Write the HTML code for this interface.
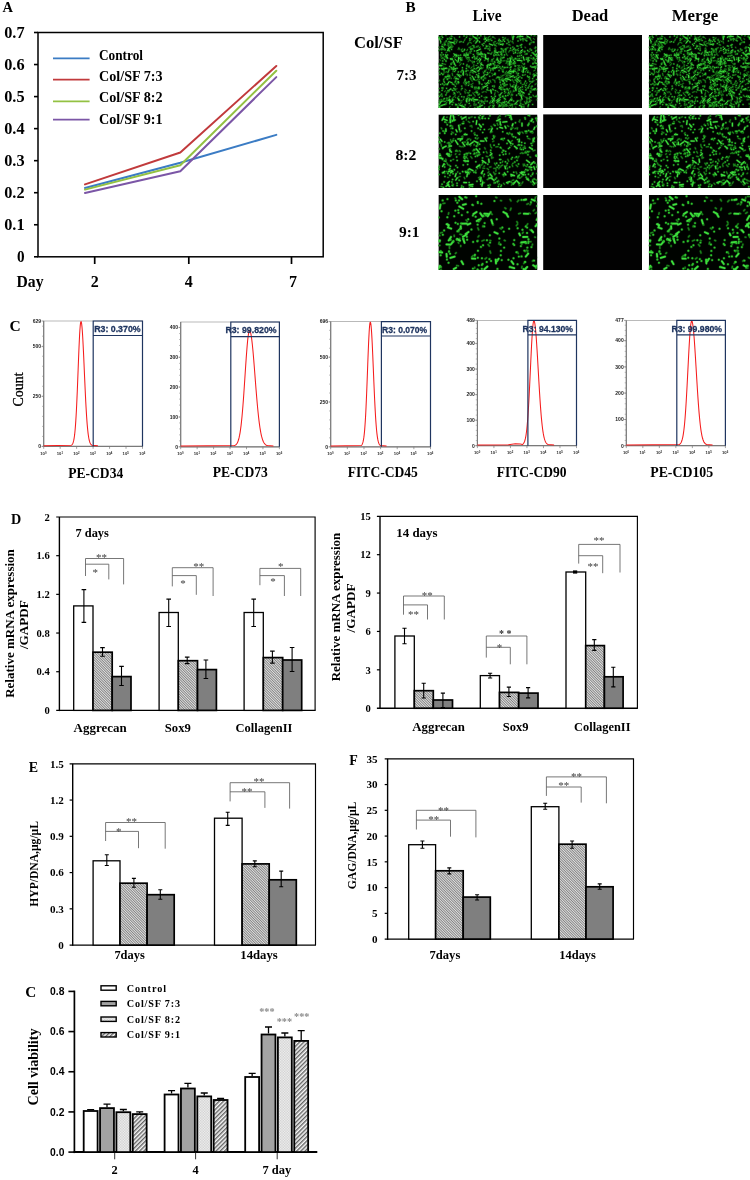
<!DOCTYPE html>
<html lang="en"><head><meta charset="utf-8"><title>Figure</title>
<style>html,body{margin:0;padding:0;background:#fff}body{width:750px;height:1180px;overflow:hidden}svg{display:block}text{font-family:"Liberation Serif","DejaVu Serif",serif;font-weight:bold}text.r{font-weight:normal}text.s{font-family:"Liberation Sans","DejaVu Sans",sans-serif}text.sr{font-family:"Liberation Sans","DejaVu Sans",sans-serif;font-weight:normal}</style>
</head><body>
<svg width="750" height="1180" viewBox="0 0 750 1180">
<defs>
<filter id="soft" x="-5%" y="-5%" width="110%" height="110%"><feGaussianBlur stdDeviation="0.7"/></filter>
<pattern id="h1" width="1.8" height="1.8" patternUnits="userSpaceOnUse" patternTransform="rotate(45)"><rect width="1.8" height="1.8" fill="#e4e4e4"/><line x1="0" y1="0.5" x2="1.8" y2="0.5" stroke="#6a6a6a" stroke-width="0.75"/></pattern>
<pattern id="h2" width="3" height="3" patternUnits="userSpaceOnUse" patternTransform="rotate(-45)"><rect width="3" height="3" fill="#fafafa"/><line x1="0" y1="0.8" x2="3" y2="0.8" stroke="#2a2a2a" stroke-width="1.05"/></pattern>
<pattern id="dots" width="1.6" height="1.6" patternUnits="userSpaceOnUse"><rect width="1.6" height="1.6" fill="#f6f6f6"/><rect width="0.6" height="0.6" fill="#a8a8a8"/><rect x="0.8" y="0.8" width="0.6" height="0.6" fill="#a8a8a8"/></pattern>
</defs>
<rect width="750" height="1180" fill="#fff"/>
<g id="panelA">
<text x="2.5" y="12.2" font-size="14.5">A</text>
<rect x="38" y="32.5" width="285.2" height="224.3" fill="none" stroke="#000" stroke-width="1.5"/>
<line x1="34" y1="256.8" x2="38" y2="256.8" stroke="#000" stroke-width="1.6"/>
<text x="24.6" y="262.2" font-size="16.3" text-anchor="end" textLength="7.6" lengthAdjust="spacingAndGlyphs">0</text>
<line x1="34" y1="224.76" x2="38" y2="224.76" stroke="#000" stroke-width="1.6"/>
<text x="24.6" y="230.16" font-size="16.3" text-anchor="end" textLength="20.4" lengthAdjust="spacingAndGlyphs">0.1</text>
<line x1="34" y1="192.71" x2="38" y2="192.71" stroke="#000" stroke-width="1.6"/>
<text x="24.6" y="198.11" font-size="16.3" text-anchor="end" textLength="20.4" lengthAdjust="spacingAndGlyphs">0.2</text>
<line x1="34" y1="160.67" x2="38" y2="160.67" stroke="#000" stroke-width="1.6"/>
<text x="24.6" y="166.07" font-size="16.3" text-anchor="end" textLength="20.4" lengthAdjust="spacingAndGlyphs">0.3</text>
<line x1="34" y1="128.63" x2="38" y2="128.63" stroke="#000" stroke-width="1.6"/>
<text x="24.6" y="134.03" font-size="16.3" text-anchor="end" textLength="20.4" lengthAdjust="spacingAndGlyphs">0.4</text>
<line x1="34" y1="96.59" x2="38" y2="96.59" stroke="#000" stroke-width="1.6"/>
<text x="24.6" y="101.99" font-size="16.3" text-anchor="end" textLength="20.4" lengthAdjust="spacingAndGlyphs">0.5</text>
<line x1="34" y1="64.54" x2="38" y2="64.54" stroke="#000" stroke-width="1.6"/>
<text x="24.6" y="69.94" font-size="16.3" text-anchor="end" textLength="20.4" lengthAdjust="spacingAndGlyphs">0.6</text>
<line x1="34" y1="32.5" x2="38" y2="32.5" stroke="#000" stroke-width="1.6"/>
<text x="24.6" y="37.9" font-size="16.3" text-anchor="end" textLength="20.4" lengthAdjust="spacingAndGlyphs">0.7</text>
<line x1="94.7" y1="256.8" x2="94.7" y2="264" stroke="#000" stroke-width="1.7"/>
<line x1="188.8" y1="256.8" x2="188.8" y2="264" stroke="#000" stroke-width="1.7"/>
<line x1="291.5" y1="256.8" x2="291.5" y2="264" stroke="#000" stroke-width="1.7"/>
<text x="16.5" y="287.2" font-size="16" textLength="27" lengthAdjust="spacingAndGlyphs">Day</text>
<text x="94.7" y="287.2" font-size="16" text-anchor="middle">2</text>
<text x="188.8" y="287.2" font-size="16" text-anchor="middle">4</text>
<text x="293" y="287.2" font-size="16" text-anchor="middle">7</text>
<polyline points="85,188 180.3,162.69 276.3,134.88" fill="none" stroke="#3b7cc4" stroke-width="2" stroke-linejoin="round" stroke-linecap="round"/>
<polyline points="85,184.38 180.3,152.5 276.3,65.98" fill="none" stroke="#c13a3c" stroke-width="2" stroke-linejoin="round" stroke-linecap="round"/>
<polyline points="85,189.61 180.3,165.29 276.3,70.7" fill="none" stroke="#93c143" stroke-width="2" stroke-linejoin="round" stroke-linecap="round"/>
<polyline points="85,193.03 180.3,171.25 276.3,77.1" fill="none" stroke="#7b56a6" stroke-width="2" stroke-linejoin="round" stroke-linecap="round"/>
<line x1="53" y1="58.4" x2="89.6" y2="58.4" stroke="#3b7cc4" stroke-width="1.8"/>
<text x="99" y="59.6" font-size="13.6" textLength="44" lengthAdjust="spacingAndGlyphs" xml:space="preserve">Control</text>
<line x1="53" y1="79.6" x2="89.6" y2="79.6" stroke="#c13a3c" stroke-width="1.8"/>
<text x="99" y="81" font-size="13.6" textLength="63.5" lengthAdjust="spacingAndGlyphs" xml:space="preserve">Col/SF 7:3</text>
<line x1="53" y1="101.4" x2="89.6" y2="101.4" stroke="#93c143" stroke-width="1.8"/>
<text x="99" y="102.4" font-size="13.6" textLength="63.5" lengthAdjust="spacingAndGlyphs" xml:space="preserve">Col/SF 8:2</text>
<line x1="53" y1="119.6" x2="89.6" y2="119.6" stroke="#7b56a6" stroke-width="1.8"/>
<text x="99" y="124.4" font-size="13.6" textLength="63.5" lengthAdjust="spacingAndGlyphs" xml:space="preserve">Col/SF 9:1</text>
</g>
<g id="panelB">
<text x="405.6" y="12" font-size="15.2">B</text>
<text x="487" y="20.8" font-size="16" text-anchor="middle" textLength="29" lengthAdjust="spacingAndGlyphs">Live</text>
<text x="590" y="20.8" font-size="16" text-anchor="middle" textLength="36.6" lengthAdjust="spacingAndGlyphs">Dead</text>
<text x="695" y="20.8" font-size="16" text-anchor="middle" textLength="46.6" lengthAdjust="spacingAndGlyphs">Merge</text>
<text x="354" y="48" font-size="16" textLength="48.8" lengthAdjust="spacingAndGlyphs">Col/SF</text>
<text x="396.6" y="80" font-size="15.5" textLength="20" lengthAdjust="spacingAndGlyphs">7:3</text>
<text x="395.4" y="160" font-size="15.5" textLength="21" lengthAdjust="spacingAndGlyphs">8:2</text>
<text x="399" y="237" font-size="15.5" textLength="20.6" lengthAdjust="spacingAndGlyphs">9:1</text>
<defs>
<clipPath id="clip0"><rect width="101.2" height="73"/></clipPath>
<g id="live0" clip-path="url(#clip0)"><rect width="101.2" height="73" fill="#000300"/>
<g stroke-linecap="round" fill="none">
<path id="c0_0" d="M71.4 53.4l-1.2 0.9M20.6 13.0l0.7 1.4M16.2 47.3l1.2 0.0M78.3 41.3l-1.8 1.0M78.4 37.0l-0.4 1.4M34.7 62.4l0.1 1.8M72.3 56.0l0.0 1.5M33.8 0.9l1.2 0.8M72.9 15.3l-1.2 0.2M4.8 14.5l0.8 0.2M54.7 34.6l0.1 0.9M58.7 18.3l1.0 0.8M19.3 72.9l0.7 0.8M45.0 53.2l-0.6 0.0M51.3 12.7l0.2 0.9M16.3 61.5l1.1 1.2M59.1 8.1l-1.4 0.6M22.6 28.7l-1.2 1.6M8.8 3.4l0.8 0.1M38.4 64.9l-1.7 1.0M5.3 34.9l0.5 0.4M99.8 0.8l-0.7 0.3M70.5 68.2l1.1 0.3M72.1 6.0l0.8 0.6M1.6 66.3l-1.3 1.4M0.7 36.3l0.3 0.8M18.3 19.4l1.2 1.6M17.8 48.3l0.4 0.8M36.0 67.9l-0.4 1.5M73.0 21.1l1.1 1.8M62.5 18.0l0.9 0.3M84.0 60.9l-1.1 0.2M70.0 43.5l-1.1 1.7M63.5 70.5l1.2 1.4M18.5 6.6l-0.7 1.4M100.0 37.0l-0.9 0.1M75.7 49.7l-0.6 0.1M29.1 14.4l-0.6 1.3M88.5 34.5l-0.5 1.1M2.5 29.3l-0.9 1.9M74.2 69.9l-1.6 0.9M24.3 34.6l0.8 1.2M2.1 31.3l0.7 0.0M67.8 19.5l1.4 0.8M94.6 54.9l-1.2 0.2M39.2 21.2l-0.8 1.7M71.8 49.1l0.4 2.1M50.0 55.5l1.2 0.0M52.8 29.1l0.6 0.3M75.5 41.9l-1.0 0.2M65.3 68.2l1.0 0.5M44.7 37.1l0.6 0.6M47.6 10.3l1.4 0.8M28.8 66.2l-0.3 1.5M63.0 40.9l0.8 1.0M73.7 72.4l1.4 1.7M12.7 8.7l0.6 0.4M72.1 40.2l-0.5 1.0M46.4 42.2l-0.1 0.7M10.6 56.7l-1.8 0.6M73.2 62.5l-0.2 0.6M65.1 70.1l-0.3 1.8M48.4 48.7l0.5 0.4M40.2 41.3l1.0 0.7M0.0 59.1l-1.4 0.4M47.1 62.2l1.7 0.2M74.2 37.2l-0.5 0.4M17.0 41.7l-1.0 0.4M3.7 60.3l0.3 1.3M68.6 4.8l1.8 1.2M54.7 72.3l-0.8 1.2M90.0 36.0l-1.0 0.2M28.1 48.4l-0.4 0.8M57.8 19.2l0.6 1.3M100.5 18.1l-1.3 0.5M65.4 63.3l0.7 0.4M17.9 4.6l-2.0 0.5M12.9 27.8l-0.4 0.9M41.6 12.2l-0.8 0.6M33.3 43.9l-1.0 0.4M30.5 23.3l0.2 1.2M54.9 39.5l-1.0 1.3M89.6 16.1l0.5 0.7M53.6 17.3l-0.2 0.8M2.0 14.1l-1.4 1.1M80.2 13.5l-1.3 1.1M30.8 17.9l1.6 0.2M78.8 43.4l0.1 2.1M60.6 59.9l1.3 0.6M92.3 48.1l-1.3 1.5M42.9 16.5l-0.6 0.7M18.3 53.7l-0.4 0.6M46.3 48.2l1.1 0.1M3.2 20.7l-0.6 1.3M46.2 1.0l0.1 0.8M57.0 10.5l1.1 0.5M95.3 22.5l0.5 1.7M24.0 69.7l-0.3 0.7M58.6 56.1l1.0 1.2M54.6 72.1l-0.6 0.3M95.1 3.6l0.8 0.7M97.8 37.9l0.9 1.2M97.6 54.6l1.6 0.8M79.8 18.0l-1.0 0.4M69.6 4.2l-0.3 0.9M94.7 28.1l-0.2 1.0M100.6 47.1l1.0 1.1M74.1 6.3l0.6 1.8M22.8 23.2l1.1 1.8M89.5 71.4l0.1 0.7M63.9 32.8l-2.0 0.8M19.1 47.2l0.9 1.4M15.4 64.8l-0.4 0.5M82.0 54.9l0.5 1.3M11.5 71.6l-0.6 1.4M100.6 32.1l-1.9 0.1M31.6 25.3l1.3 0.9M1.0 45.1l0.2 0.8M30.0 72.8l-0.2 1.7M5.1 23.3l-2.0 0.1M5.7 8.2l0.6 0.5M29.6 31.8l1.3 0.7M67.6 69.2l-1.2 1.1M91.4 22.7l-1.0 0.2M100.0 52.4l-0.9 0.3M6.4 43.6l-0.9 0.1M73.5 0.6l0.6 1.5M79.6 33.0l0.4 0.7M86.3 31.4l-1.0 1.3M4.1 52.8l0.4 0.6M82.7 9.5l-1.1 1.1M13.8 38.4l0.4 2.1M35.9 53.8l1.7 0.0M66.2 47.3l-1.0 1.8M87.1 39.6l-2.0 0.7M79.8 33.3l0.5 1.7M21.9 27.1l-0.9 0.7M20.5 61.2l-1.4 1.6M9.9 15.3l1.5 1.1M28.9 39.3l-0.0 1.1M73.2 26.6l0.1 1.0M86.3 47.5l-0.4 1.9M100.2 64.6l-1.9 0.2M20.2 39.8l-0.9 1.1M34.0 0.5l0.7 0.0M90.8 66.8l-1.2 1.2M54.4 28.2l0.7 0.5M52.9 65.3l-1.0 1.7M96.1 13.2l1.0 0.2M30.8 57.6l-2.0 0.1M27.7 64.1l0.7 1.0M75.5 35.4l1.6 0.8M38.5 30.5l-0.9 0.0M1.5 24.8l0.4 0.5M29.5 58.0l0.4 0.6M9.5 9.9l-0.7 0.3M32.4 11.9l-1.8 0.6M30.6 47.0l-2.0 0.4M15.9 2.6l0.6 1.6M67.1 3.2l-1.1 1.2M8.5 67.1l-0.9 1.8M83.6 58.0l1.7 0.8M10.6 33.4l0.8 1.3M19.0 5.2l-1.4 1.4M26.8 3.8l-0.9 2.0M67.6 57.4l-1.6 0.8M45.6 56.7l-1.8 0.7M64.6 43.1l-0.7 1.3M40.1 17.5l-0.2 1.3M70.6 9.8l1.1 0.3M61.1 69.9l-0.5 1.9M26.9 72.5l-0.7 1.3M80.4 31.3l-0.0 0.6M67.5 17.7l0.5 0.8M83.5 22.7l-0.8 0.2M67.1 54.2l-0.6 1.2M36.8 72.8l0.6 0.6M4.9 9.2l-1.1 0.3M78.6 23.7l-0.9 0.5M74.2 59.4l-0.1 1.0M61.9 6.2l-0.5 1.6M0.4 28.4l0.2 1.1M56.0 16.1l-0.1 2.0M5.4 36.4l0.6 0.3M10.1 10.8l0.1 1.2M96.6 35.3l-1.1 0.5M49.2 53.8l-0.8 0.5M20.3 68.4l0.9 1.0M0.7 12.2l-1.4 0.2M52.4 3.6l-0.4 1.5M11.9 11.7l1.8 0.0M31.4 16.4l0.9 1.6M56.3 45.3l0.3 2.0M88.5 47.9l-0.4 0.7M85.4 16.7l1.5 1.4M77.3 72.0l0.3 1.9M55.8 18.4l0.6 0.1M68.4 27.8l-0.8 0.4M91.9 3.9l1.1 1.8M13.5 67.1l1.8 0.6M89.2 2.8l-1.6 0.4M84.1 28.4l1.2 1.4M20.0 63.8l0.9 0.3M7.8 21.5l0.9 1.0M74.9 55.2l1.1 0.9M77.7 44.7l-1.2 0.2M23.3 14.5l-0.1 1.7M65.7 40.1l-1.7 0.5M31.2 0.1l0.7 0.5M14.4 27.3l-0.5 1.0M35.4 29.6l-0.0 2.2M23.7 22.8l-0.6 1.3M61.5 26.6l-1.0 0.0M70.6 58.3l0.9 0.6M85.2 49.3l-1.4 0.4M46.0 20.7l1.2 1.2M12.6 43.0l0.2 0.6M81.3 3.7l1.9 0.7M68.6 26.7l-0.1 1.5M67.3 49.7l-0.7 0.2M82.3 66.8l-0.5 0.4M83.9 69.4l1.7 0.5M94.1 45.9l-1.3 1.7M16.9 59.9l-0.3 1.0M61.7 44.9l0.1 1.8M5.7 37.5l-0.5 1.6M26.2 46.1l-0.9 1.9M36.1 5.6l-0.7 0.7M70.2 40.2l1.0 0.3M73.9 44.4l0.9 1.8M80.4 2.7l1.6 0.4M1.0 64.9l-0.4 1.1M62.9 23.6l-0.2 1.4M35.9 20.7l-0.3 0.6M69.5 58.7l1.6 0.6M14.9 34.6l-0.2 2.1M12.6 9.7l1.6 1.4M34.6 57.8l0.4 1.1M65.6 69.7l-2.1 0.4M71.7 22.8l-0.5 0.6M64.3 14.2l0.2 2.0M81.6 45.3l0.8 0.6M66.6 25.7l-2.1 0.2M70.1 38.6l1.0 0.0M14.5 11.6l-1.4 1.6M31.7 12.8l0.6 1.4M60.9 8.6l0.8 0.1M4.2 11.4l-1.3 0.1M1.8 1.9l-1.9 0.7M55.4 19.4l0.1 0.7M9.3 8.0l0.4 0.6M33.3 50.9l-0.6 0.7M76.7 23.2l-0.8 1.4M93.4 17.8l0.6 0.2M3.2 64.4l0.7 1.8M74.4 28.3l-0.8 0.2M61.7 42.3l-1.3 0.2M35.6 59.2l1.2 1.8M37.1 57.1l1.2 0.6M9.6 13.8l0.8 1.7M36.5 72.3l-0.5 1.1M55.5 50.6l0.6 0.1M34.1 26.0l1.4 1.5M49.7 33.5l0.4 0.8M75.9 34.0l1.5 0.2M20.3 12.9l-0.5 1.5M83.5 26.0l-0.6 1.1M43.9 52.7l-0.5 1.6M94.8 22.4l1.3 1.0M30.6 62.5l-1.2 0.6M37.2 57.2l-0.9 0.3M14.9 21.3l0.6 0.6M39.9 46.4l0.7 0.8M38.6 19.0l1.2 0.8M39.2 57.7l-0.9 0.4M99.0 1.9l1.5 0.2M39.1 56.1l-1.4 0.1M76.7 51.4l0.6 0.4M6.9 55.8l-0.6 0.8M64.5 14.2l-0.7 1.1M55.4 72.4l0.7 1.9M73.1 22.1l0.6 1.4M66.4 70.0l-0.7 1.8M10.0 8.6l0.0 0.6M36.2 12.6l-1.2 0.2M28.0 35.2l-0.5 1.5M53.7 28.5l-1.2 1.7M70.2 42.5l-0.7 0.3M12.3 54.1l1.6 1.1M8.3 57.0l-0.1 1.8M65.8 44.4l-2.1 0.1M100.2 41.6l0.9 1.1M15.7 59.1l-0.8 0.0M26.3 71.4l-1.2 0.7M30.5 7.6l-0.7 0.7M28.5 47.2l1.9 0.9M4.8 52.5l-0.3 1.6M89.2 52.6l-1.1 1.5M76.3 55.9l-1.7 0.8M98.9 39.6l0.1 0.8M44.9 41.9l-1.3 0.3M96.7 0.7l-1.1 0.2M33.8 13.5l0.8 0.5M43.0 65.3l-1.4 1.2M28.4 35.2l1.6 0.4M84.3 4.3l0.4 1.6M91.4 43.2l-0.9 1.7M35.6 62.4l-0.5 0.6M13.3 32.9l1.3 0.6M31.0 24.9l-1.1 1.6M18.5 39.5l0.5 0.6M99.5 31.4l-0.5 0.4M91.1 64.8l1.9 0.6M59.0 30.3l1.4 0.3M65.4 17.2l-0.9 0.1M78.9 65.5l1.7 0.2M78.8 23.8l-2.1 0.3M87.4 62.3l1.3 0.3M51.7 33.3l1.6 0.5M39.2 35.6l0.8 1.1M23.6 65.7l-1.2 0.2M64.6 4.4l0.7 1.0M65.0 34.8l-0.3 0.7M19.8 70.1l-0.7 1.3M99.6 61.5l-0.8 1.3M92.4 53.4l0.9 1.0M15.7 6.4l0.7 0.0M8.6 43.3l0.7 1.4M49.7 25.0l0.0 1.7M98.9 19.0l0.0 0.7M38.1 69.3l-0.8 0.0M15.2 62.1l-1.2 1.2M97.6 25.6l-1.5 1.1M6.6 10.1l-0.8 0.4M68.1 13.7l-1.9 0.6M54.6 66.4l0.5 0.9M7.7 25.2l-0.7 0.3M6.6 49.9l-0.8 0.4M39.3 21.1l-1.6 1.4M23.0 67.1l-1.0 1.5M39.5 44.6l-2.0 0.8M92.5 23.4l1.0 0.0M2.0 64.9l1.6 1.1M0.7 15.1l-0.7 0.7M5.4 49.4l-0.1 0.7M78.1 48.1l0.1 2.0M4.1 38.9l0.7 0.4M54.3 65.3l0.5 1.1M55.4 23.2l-0.7 1.1M73.3 58.9l-0.6 2.0M38.4 2.3l-0.4 2.0M49.2 3.1l0.9 0.0M52.0 70.4l-0.8 1.1M7.9 20.6l-0.8 0.3M6.2 13.6l-1.3 0.6M55.5 68.2l-0.8 0.4M7.0 0.2l0.8 0.3M68.0 14.2l-0.7 1.1M16.8 22.5l-0.6 0.5M31.1 48.9l0.5 0.6M98.3 30.2l0.4 0.9M86.7 12.2l0.3 0.6M40.7 41.0l-0.3 1.8M38.0 52.0l0.4 1.4M37.8 23.1l1.3 1.5M4.3 30.3l-0.9 0.1M56.3 62.1l-1.3 0.6M79.9 34.3l-0.2 1.3M38.6 71.4l1.3 1.1M68.2 36.2l-1.1 1.8M46.2 71.9l-0.4 2.0M91.6 15.9l-0.6 0.7M65.7 22.0l-1.2 0.9M2.1 14.1l0.5 0.9M6.5 8.6l-0.4 1.3M43.6 66.1l-0.1 1.7M34.0 34.4l1.4 0.4M17.3 44.6l0.6 0.3M68.7 38.8l-2.0 0.3M47.3 42.8l-0.0 0.9M84.2 16.1l-0.9 0.3M35.7 22.3l1.8 1.0M97.5 48.9l-0.8 0.6M94.3 24.5l0.8 0.4M71.5 15.2l-1.1 1.8M88.3 19.1l-1.7 0.2M56.9 27.5l-1.5 1.0M6.0 21.7l0.9 0.7M38.7 5.6l-1.3 1.1M91.6 37.6l0.1 1.5M79.3 30.5l2.0 0.1M98.2 60.4l0.3 1.2M82.0 32.7l-1.9 0.3M8.0 69.3l-1.4 0.5M18.1 69.7l-0.8 0.6M24.0 14.0l-1.2 0.7M10.0 6.8l1.0 1.0M33.7 31.9l-1.2 1.4M31.4 7.3l1.6 0.8M54.1 28.2l0.9 0.9M30.3 60.2l-1.4 1.1M10.7 3.9l1.1 0.0M61.9 42.0l1.0 1.1M63.8 35.9l1.6 1.2M42.5 42.8l0.6 1.2M88.4 65.5l0.7 1.7M67.6 15.5l-0.4 1.5M35.3 37.7l-0.4 0.5M56.7 12.9l-0.4 1.0M73.6 64.2l-1.6 0.0M12.4 32.8l0.6 0.5M47.2 56.8l0.7 0.2M71.0 72.6l-0.2 1.1M24.6 72.6l1.5 0.2M56.3 6.7l-1.2 0.7M62.3 22.1l1.1 0.2M45.6 62.3l1.0 1.0M6.4 63.3l-1.2 1.0M46.2 51.3l-2.1 0.5M86.1 66.6l0.8 1.5M2.6 59.8l-1.5 1.2M53.8 70.3l1.3 0.9M28.0 64.7l-0.4 0.6M8.0 36.6l-0.7 0.5M53.6 38.5l0.8 0.8M7.1 32.7l1.8 0.7M25.3 63.9l-0.3 0.8M81.1 56.9l2.1 0.2M33.6 3.6l-1.1 1.0M28.3 0.5l0.5 0.4M39.6 11.7l-2.0 0.5M41.3 44.0l-0.8 1.0M87.0 36.4l0.0 0.8M7.5 49.2l-1.3 0.2M64.2 61.4l0.7 1.0M75.2 46.8l0.6 0.9M83.4 30.9l0.9 1.8M35.4 10.4l-1.5 0.1M5.0 28.9l2.1 0.5M17.0 41.6l1.3 1.6M10.2 13.1l1.6 0.1M101.0 40.2l0.7 1.3M69.2 39.7l-1.4 1.5M26.7 54.4l1.2 1.0M83.2 36.4l2.0 0.0M29.7 18.2l0.4 1.5M80.2 54.5l0.1 1.8M27.8 38.7l-0.2 0.6M58.7 42.7l-0.9 0.6M7.1 41.8l1.2 0.1M26.3 48.8l1.1 1.5M33.8 27.0l0.3 1.0M95.3 7.0l-1.8 0.1M32.4 70.7l-0.7 0.3M5.5 32.2l0.0 1.2M14.9 32.7l1.2 0.8M95.5 45.5l-0.3 0.8M58.8 67.7l0.7 1.3M18.4 56.8l0.8 0.8M60.9 67.4l-1.1 0.6M80.1 38.3l-0.9 0.9M94.6 39.9l0.5 0.8M47.9 35.0l-1.8 0.8M63.5 34.6l0.7 0.3M54.4 68.0l1.1 0.9M56.8 38.2l0.2 1.6M0.0 47.6l-0.8 0.3M67.7 61.1l-0.4 0.5M34.6 48.4l-1.8 1.2M41.9 72.8l-1.6 0.1M7.3 7.1l-1.1 0.1M50.3 11.1l1.2 0.5M66.5 32.8l-0.9 0.5M64.9 49.1l1.5 1.5M2.4 3.8l1.2 0.4M55.4 2.3l1.2 1.2M46.3 43.3l-1.4 1.2M71.7 28.5l1.9 1.0M16.1 6.2l-0.3 1.6M100.4 68.4l0.1 1.1M84.4 54.4l-0.8 0.3M73.9 70.3l0.1 1.2M52.7 26.1l1.6 0.0M94.6 60.7l1.4 0.9M16.0 49.6l-0.0 0.8M51.7 1.1l-1.6 1.1M14.0 1.5l-0.8 0.2M47.7 12.6l0.3 0.6M68.0 40.9l1.3 0.1M39.5 25.4l-1.1 0.8M23.0 53.8l-0.1 1.1M61.4 70.9l-1.1 1.2M30.1 8.1l-1.0 1.7M45.1 37.8l0.2 0.8M34.0 64.7l1.0 1.2M69.3 70.4l0.3 0.7M69.9 28.0l-0.2 1.9M23.1 70.2l0.3 1.9M80.2 51.7l-1.6 0.8M67.0 2.7l-0.6 0.8M59.9 7.9l0.6 1.7M26.4 56.2l0.5 1.9M10.9 40.3l0.6 1.6M96.4 31.1l-0.8 1.3M44.7 32.6l-1.2 1.2M84.1 59.5l1.3 1.6M41.3 65.5l-0.3 0.7M1.8 60.0l1.5 1.3M57.3 6.6l-1.0 0.3M63.7 53.7l-0.1 1.3M62.3 19.3l-1.1 1.1M3.5 22.2l1.2 0.4M20.0 56.9l1.1 0.3M66.8 49.1l0.6 0.9M39.7 52.5l-0.7 1.3M4.9 33.4l0.1 1.2M52.0 37.0l-1.8 1.2M49.6 6.0l0.9 0.3M56.0 31.3l0.1 1.9M97.9 19.7l-0.6 0.8M33.3 45.7l0.6 0.3M32.1 36.9l-0.6 1.1M8.4 17.2l-0.7 0.3M68.3 25.6l-0.2 1.3M57.0 13.6l0.5 2.0M46.7 64.6l0.1 2.0M44.0 21.7l1.8 0.4M40.7 47.5l0.2 1.6M63.1 51.7l-0.6 2.0M0.4 73.0l0.5 0.9M81.4 17.5l-0.7 0.6M47.7 24.4l-1.7 1.0M101.0 72.1l1.3 0.4M48.3 2.6l-1.8 1.2M65.8 2.7l0.6 0.7M75.5 51.3l0.4 1.6M33.6 50.6l0.5 0.4M59.1 24.3l-1.3 0.8M11.3 2.5l-0.4 0.6M50.5 2.0l-0.7 0.6M75.8 27.8l0.5 0.4M51.8 45.4l0.6 1.9M69.7 54.3l0.7 2.0M93.0 7.8l-1.6 0.4M74.6 16.3l0.4 0.5M66.2 70.2l-1.0 0.6M83.7 35.1l0.4 2.0M60.7 32.1l-1.0 0.6M91.7 55.6l0.1 1.8M71.3 9.7l-1.0 0.0M33.5 37.4l1.3 0.4M5.4 64.0l-0.5 0.5M100.1 43.3l-0.4 1.8M94.7 60.1l0.4 0.5M91.8 65.3l-1.2 0.8M75.5 69.3l1.4 0.1M92.8 51.6l0.0 2.1M7.2 48.9l0.9 0.2M36.9 33.8l1.0 1.3M87.6 67.8l0.2 0.6M54.3 44.6l1.6 0.6M62.2 60.3l-1.2 1.2M66.1 49.1l1.1 1.8M40.1 11.0l-2.0 0.5M37.4 70.0l-1.8 0.1M43.8 19.4l-0.2 0.9M100.8 1.1l0.7 0.5M86.7 52.0l0.6 0.7M8.3 64.6l-0.3 1.1M64.7 60.7l0.5 0.9M11.3 40.2l-0.5 1.2M27.9 22.8l1.0 1.6M18.5 48.3l-0.2 0.8M67.5 44.1l-0.4 1.4M61.1 69.6l-0.7 2.0M60.6 67.1l1.7 0.7M12.3 10.1l1.0 0.0M18.6 46.3l1.7 1.3M69.6 12.7l-1.6 0.5M63.9 52.2l0.9 0.4M64.0 72.7l-0.6 0.6M10.7 9.9l-0.3 1.2M16.8 42.1l-1.0 1.3M8.4 37.3l1.1 0.5M56.6 57.8l-0.5 2.1M76.2 30.2l1.3 0.4"/>
<path id="c0_1" d="M8.1 33.3l-4.4 0.9M64.9 9.0l-3.0 0.5M56.5 16.9l2.7 0.7M14.5 65.0l-2.6 2.8M78.9 25.4l3.3 0.1M77.6 50.3l-0.6 2.5M96.0 19.0l2.8 3.1M52.4 29.5l-1.8 1.0M56.0 63.7l-2.4 3.7M79.0 66.3l-2.4 2.5M75.0 1.2l-0.5 3.4M76.0 13.3l-1.6 1.5M75.2 36.5l-3.9 0.2M59.0 24.2l1.0 1.8M74.8 40.8l-3.1 1.4M35.7 64.4l3.7 0.4M42.0 14.2l-3.8 1.7M29.6 19.8l-4.1 0.5M11.0 12.4l-1.8 3.2M20.2 22.4l-0.3 4.0M21.4 70.2l3.9 1.3M25.9 72.9l-1.8 1.5M84.0 14.9l-1.7 1.2M42.7 19.0l-2.0 0.3M97.5 32.0l-4.1 0.1M76.7 53.0l0.9 2.7M40.2 32.1l-1.9 1.2M51.0 8.9l3.3 1.3M12.1 7.2l2.9 0.4M11.6 64.8l-0.3 4.0M42.0 33.4l-2.2 2.8M100.8 3.9l4.0 0.2M19.4 72.3l0.1 2.2M63.3 45.0l1.7 1.7M72.9 64.1l-2.4 2.4M17.4 43.5l2.6 0.6M71.3 26.0l-0.0 4.2M78.4 43.5l2.9 2.8M20.3 22.3l2.6 2.8M11.9 23.7l2.1 0.7M47.2 19.5l-0.0 4.1M100.8 18.3l-3.4 1.2M17.7 33.5l-3.0 0.8M42.4 24.1l-1.0 1.8M42.5 17.6l2.0 1.8M46.7 2.9l1.6 2.8M61.6 64.8l-3.2 2.4M39.5 5.3l-2.2 2.8M84.9 21.7l0.8 3.4M2.9 66.5l-2.4 3.7M6.7 69.2l-4.1 1.5M46.5 39.6l-1.9 2.1M19.6 63.6l1.0 1.8M10.9 64.4l1.4 2.9M81.0 70.4l2.3 0.9M39.7 40.3l0.1 2.4M83.1 56.6l2.6 1.3M31.3 63.9l-0.6 2.2M96.6 28.0l3.5 0.8M100.2 2.3l2.7 1.5M58.5 32.5l-4.1 0.7M19.3 39.2l2.1 2.9M44.0 70.3l-3.5 1.5M99.3 12.4l3.5 1.7M12.4 53.9l-1.8 1.4M25.0 37.3l-0.1 2.9M7.3 19.7l1.9 3.6M99.3 61.4l3.1 2.5M28.7 63.3l-0.7 3.4M49.6 29.5l-0.9 3.4M61.0 63.3l-2.7 2.2M67.2 43.5l3.9 1.1M80.5 1.3l3.9 0.1M42.2 29.0l2.4 1.2M15.5 18.9l3.0 1.8M14.9 25.7l1.5 3.9M100.9 13.5l-0.2 2.8M0.3 70.9l1.6 3.0M49.9 46.9l-2.2 2.3M89.7 22.6l-0.1 4.3M71.8 23.1l0.5 3.7M52.3 55.0l0.7 3.2M48.9 50.6l-3.8 1.7M46.6 22.9l3.1 1.6M88.6 1.0l3.2 2.0M96.5 39.9l-1.0 1.9M97.0 53.6l-2.2 0.8M10.7 46.6l-1.9 3.1M33.6 35.4l3.8 1.8M88.4 33.3l-3.3 0.9M63.4 57.7l-2.2 2.5M1.2 30.5l2.1 0.1M0.4 2.6l2.0 4.1M35.1 1.7l3.9 2.4M33.7 41.2l2.5 3.7M85.2 32.8l-0.4 4.6M99.8 46.2l2.5 0.0M82.5 60.2l1.1 3.9"/>
<path id="c0_2" d="M14.7 33.2h.1M33.9 22.6h.1M97.5 15.4h.1M56.2 65.8h.1M24.0 32.7h.1M91.3 9.2h.1M98.0 44.5h.1M82.4 65.0h.1M25.6 61.9h.1M14.9 49.3h.1M16.7 55.0h.1M12.2 3.7h.1M22.2 22.6h.1M65.9 54.7h.1M72.2 45.1h.1M48.2 39.8h.1M16.3 58.3h.1M94.2 43.6h.1M40.6 19.0h.1M30.8 68.4h.1M65.0 45.7h.1M83.1 25.7h.1M62.5 25.7h.1M64.1 9.9h.1M10.7 6.5h.1M9.7 41.4h.1M14.2 55.4h.1M17.2 69.3h.1M11.7 66.8h.1M92.6 20.6h.1M55.5 9.1h.1M91.4 62.2h.1M3.0 38.3h.1M30.4 22.4h.1M77.5 45.2h.1M67.5 32.4h.1M4.3 39.6h.1M62.4 27.0h.1M50.5 72.1h.1M74.7 24.8h.1M7.8 5.9h.1M70.4 37.2h.1M75.5 27.3h.1M40.8 2.9h.1M95.4 39.1h.1M70.4 7.2h.1M53.6 24.7h.1M56.9 61.3h.1M42.9 32.9h.1M39.3 28.4h.1M68.5 8.5h.1M78.7 2.4h.1M28.2 30.8h.1M71.5 38.5h.1M87.4 54.9h.1M91.4 66.7h.1M90.7 25.4h.1M90.4 59.3h.1M62.8 16.8h.1M58.5 24.7h.1M74.3 51.8h.1M43.1 42.3h.1M40.1 24.5h.1M31.4 5.2h.1M6.0 24.3h.1M83.9 51.8h.1M62.6 54.4h.1M10.0 65.4h.1M68.6 43.4h.1M88.0 23.0h.1M72.4 38.7h.1M78.1 60.2h.1M49.7 13.8h.1M36.5 52.3h.1M45.5 8.4h.1M43.0 43.0h.1M33.4 13.9h.1M48.7 66.2h.1M6.5 66.4h.1M15.2 7.8h.1M71.7 32.8h.1M82.7 60.1h.1M81.9 0.1h.1M9.6 65.3h.1M61.4 31.9h.1M30.0 50.3h.1M3.9 28.5h.1M18.2 25.7h.1M69.4 37.6h.1M96.8 20.6h.1M75.3 35.4h.1M13.1 3.7h.1M75.0 37.5h.1M67.1 60.7h.1M12.9 32.5h.1M72.3 32.4h.1M60.6 42.7h.1M13.4 33.9h.1M53.3 5.5h.1M61.2 51.7h.1M56.3 30.0h.1M9.1 19.9h.1M46.4 36.7h.1M18.7 33.3h.1M79.7 15.6h.1M85.6 4.0h.1M61.1 70.2h.1M101.1 55.3h.1M77.1 17.0h.1M66.9 64.2h.1M77.6 15.1h.1M33.5 51.8h.1M8.9 41.3h.1M100.4 19.3h.1M89.2 15.4h.1M60.8 4.3h.1M49.8 23.4h.1M31.3 55.7h.1M9.2 4.1h.1M49.2 52.6h.1M58.4 31.1h.1M100.7 3.6h.1M61.5 53.4h.1M68.7 54.6h.1M81.4 41.8h.1M4.6 66.0h.1M17.0 51.3h.1M68.5 49.6h.1M56.5 38.4h.1M21.0 40.0h.1M54.8 54.7h.1M63.4 19.9h.1M55.9 39.4h.1M64.4 22.8h.1M50.7 29.4h.1M74.3 51.2h.1M90.7 63.5h.1M54.0 63.3h.1M79.6 5.9h.1M57.3 19.8h.1M1.1 33.7h.1M68.2 46.2h.1M33.1 65.5h.1M65.7 50.8h.1M3.3 17.7h.1M11.3 31.4h.1M56.0 26.8h.1M32.3 14.2h.1M4.2 2.4h.1M40.4 53.7h.1M4.3 25.9h.1M25.6 0.9h.1M80.7 23.7h.1M92.6 62.3h.1M89.9 52.8h.1M85.1 33.2h.1M65.0 4.9h.1M87.9 24.5h.1M5.3 34.8h.1M51.3 41.3h.1M46.6 13.4h.1M56.7 38.8h.1M101.2 10.0h.1M69.4 60.4h.1M76.1 42.4h.1M67.7 69.5h.1M27.5 47.3h.1M35.8 33.5h.1M11.9 66.5h.1M86.0 28.8h.1M0.0 2.4h.1M95.0 23.2h.1M60.8 53.0h.1M90.7 59.4h.1M48.4 11.3h.1M7.4 59.9h.1M35.5 66.1h.1M1.7 67.1h.1M41.0 6.6h.1M79.3 21.2h.1M4.8 19.7h.1M23.3 61.7h.1M35.8 26.7h.1M39.3 72.6h.1M3.6 11.3h.1M38.1 57.1h.1M58.9 42.2h.1M3.2 59.0h.1M73.2 65.4h.1M20.4 20.4h.1M43.2 61.1h.1M73.3 64.9h.1M9.6 40.2h.1M2.3 19.8h.1M52.0 28.6h.1M56.9 55.6h.1M62.3 52.5h.1M63.4 68.0h.1M38.2 39.6h.1M10.7 62.8h.1M82.9 17.5h.1M23.3 51.1h.1M95.3 18.8h.1M54.4 2.0h.1M59.5 66.0h.1M73.6 36.0h.1M79.6 40.2h.1M24.3 16.4h.1M61.7 47.6h.1M48.8 54.9h.1M72.1 45.4h.1M13.6 23.5h.1M63.5 69.0h.1M17.0 24.7h.1M91.7 14.0h.1M28.0 2.3h.1M45.8 68.6h.1M49.1 39.2h.1M94.6 28.5h.1M55.0 71.5h.1M96.1 54.7h.1M54.4 34.0h.1M90.1 69.5h.1M22.6 6.6h.1M63.5 6.5h.1M20.8 65.1h.1M72.6 31.7h.1M92.9 0.2h.1M40.9 53.0h.1M77.0 23.5h.1M88.3 67.1h.1M2.2 49.5h.1M93.0 15.1h.1M75.3 1.6h.1M43.5 49.3h.1M11.5 61.4h.1M30.4 46.7h.1M44.9 45.1h.1M50.5 4.6h.1M73.5 69.3h.1M70.4 36.6h.1M36.5 23.9h.1M98.2 23.4h.1M50.1 45.6h.1M35.1 44.4h.1M89.4 37.4h.1M74.4 12.1h.1M41.0 27.0h.1M99.4 28.3h.1M40.0 67.7h.1M31.9 42.8h.1M85.8 33.1h.1M45.3 66.9h.1M41.4 71.1h.1M92.2 31.2h.1M71.3 35.7h.1M13.8 69.6h.1M87.4 68.6h.1M82.3 48.0h.1M97.0 24.8h.1M74.2 2.8h.1M43.4 66.2h.1M27.9 18.2h.1M82.3 68.8h.1M22.0 59.0h.1M61.6 27.9h.1M24.5 38.9h.1M65.8 32.4h.1M60.7 28.5h.1M12.3 12.2h.1M55.7 51.8h.1M72.1 34.6h.1M13.7 65.9h.1M89.9 42.2h.1M9.5 55.6h.1M27.7 36.2h.1M54.3 64.0h.1M78.0 54.0h.1M5.5 46.5h.1M79.5 11.1h.1M69.8 67.4h.1M42.5 18.6h.1M100.9 10.0h.1M68.6 53.6h.1M83.0 20.3h.1M60.4 5.4h.1M17.0 46.2h.1M58.9 23.2h.1M17.5 19.8h.1M81.9 18.0h.1M80.0 42.7h.1M66.3 66.3h.1M60.5 16.9h.1M51.0 32.6h.1M3.5 14.5h.1M69.6 26.3h.1M9.9 36.7h.1M42.9 28.1h.1M47.9 62.5h.1M9.0 49.4h.1M62.3 70.8h.1M28.8 22.6h.1M66.1 63.4h.1M49.4 18.1h.1M13.9 64.3h.1M87.4 50.4h.1M72.1 13.2h.1M18.1 69.7h.1M7.8 41.9h.1M16.3 20.3h.1M48.5 30.8h.1M78.4 46.3h.1M10.5 15.4h.1M6.0 47.2h.1M97.2 12.2h.1M15.3 53.3h.1M90.6 58.9h.1M82.2 52.7h.1M34.1 22.7h.1M31.1 60.2h.1M80.7 56.7h.1M15.6 57.6h.1M37.0 2.8h.1M66.0 48.2h.1M41.2 48.1h.1M88.5 18.8h.1M2.1 7.8h.1M5.8 63.6h.1M79.4 1.4h.1M100.0 61.1h.1M59.4 27.3h.1M24.8 7.1h.1M3.1 70.5h.1M7.5 21.5h.1M42.2 30.9h.1M26.1 14.4h.1M40.4 38.6h.1M88.3 5.8h.1M43.8 9.3h.1M26.8 44.3h.1M12.1 47.2h.1M31.5 40.0h.1M59.8 19.9h.1M62.1 62.3h.1M75.0 25.5h.1M38.2 23.5h.1M93.7 51.2h.1M60.6 26.7h.1M19.9 36.9h.1M87.3 5.1h.1M50.4 48.3h.1M64.4 2.5h.1M51.4 68.0h.1M63.2 13.9h.1M13.0 47.5h.1M56.0 33.4h.1M3.6 52.9h.1M17.0 35.2h.1M7.6 26.2h.1M55.0 28.7h.1M43.2 21.6h.1M33.1 64.3h.1M76.2 26.4h.1M26.8 69.8h.1M38.8 17.8h.1M65.1 67.5h.1M72.3 27.0h.1M17.7 21.6h.1M84.4 3.7h.1M11.8 7.7h.1M53.9 63.2h.1M89.9 70.7h.1M72.5 23.8h.1M56.6 33.4h.1M20.0 46.6h.1M100.4 28.1h.1M3.6 55.4h.1M1.3 71.8h.1M44.7 10.6h.1M78.6 10.9h.1M86.4 16.3h.1M51.3 15.2h.1M75.2 66.0h.1M41.2 23.3h.1M21.1 1.9h.1M67.2 14.1h.1M92.3 57.0h.1M76.9 17.7h.1M1.1 57.1h.1M25.7 15.5h.1M39.7 59.8h.1M97.4 40.4h.1M16.2 8.8h.1M83.3 42.9h.1M82.3 10.3h.1M87.1 46.2h.1M54.2 54.1h.1M15.9 29.0h.1M65.4 22.4h.1M0.4 53.5h.1M6.6 9.6h.1M71.7 70.3h.1M97.5 61.4h.1M95.4 7.2h.1M75.3 18.3h.1M13.4 47.6h.1M45.9 19.2h.1M90.9 41.9h.1M8.9 44.2h.1M55.6 20.7h.1M76.9 28.0h.1M10.3 35.2h.1M29.5 20.2h.1M26.7 45.7h.1M8.1 53.3h.1M56.5 10.2h.1M12.6 24.4h.1M31.4 3.6h.1M21.2 1.8h.1M88.6 63.8h.1M27.8 48.5h.1M69.2 32.3h.1M13.1 14.5h.1M19.5 72.4h.1M23.7 35.4h.1M34.9 19.5h.1M62.0 5.6h.1M66.3 67.5h.1M4.7 12.5h.1M48.0 11.5h.1M45.8 4.2h.1M80.1 58.7h.1M6.9 41.9h.1M80.8 53.6h.1M41.4 33.2h.1M40.8 59.0h.1M4.0 48.8h.1M27.9 33.4h.1M81.9 55.2h.1M17.1 30.6h.1M61.3 71.0h.1M16.4 53.9h.1M52.2 35.1h.1M62.0 24.0h.1M4.2 11.5h.1M67.9 66.6h.1M35.4 11.2h.1M83.0 72.8h.1M12.9 1.0h.1M42.5 19.8h.1M22.2 20.1h.1M81.3 20.8h.1M65.5 54.3h.1M20.2 47.5h.1M8.5 63.2h.1M0.9 61.6h.1M89.1 41.2h.1M37.1 42.0h.1M64.2 61.5h.1M12.7 29.2h.1M78.3 69.0h.1M73.3 36.7h.1M22.4 40.7h.1M5.2 44.9h.1M40.1 52.7h.1M94.5 17.5h.1M39.2 0.6h.1M67.7 70.9h.1M82.1 4.8h.1M42.4 0.7h.1M64.1 31.5h.1M1.5 39.5h.1M71.9 29.1h.1M52.5 55.8h.1M60.3 5.7h.1M50.5 18.3h.1M65.1 15.9h.1M16.2 36.5h.1M93.8 46.8h.1M38.9 57.7h.1M41.7 69.0h.1M30.8 64.5h.1M14.0 48.9h.1M20.0 47.1h.1M73.5 51.5h.1M62.8 13.7h.1M25.8 19.1h.1M53.0 61.6h.1M24.9 36.4h.1M70.2 57.7h.1M46.9 6.7h.1M97.0 16.6h.1M83.4 71.9h.1M69.4 67.8h.1M75.4 28.7h.1M10.5 43.1h.1M64.6 67.3h.1M64.5 36.7h.1M90.5 51.1h.1M60.0 42.0h.1M34.5 63.7h.1M41.0 62.4h.1M21.3 7.0h.1M85.4 71.9h.1M36.0 15.9h.1M32.6 60.3h.1M55.6 70.5h.1M3.5 13.5h.1M66.0 19.9h.1M76.6 14.8h.1M52.5 18.9h.1M64.4 48.9h.1M60.5 65.5h.1M48.9 37.5h.1M22.3 24.9h.1M31.7 64.3h.1M94.2 69.5h.1M97.0 33.5h.1M81.6 58.4h.1M32.8 16.0h.1M22.6 36.8h.1M28.6 29.8h.1M25.0 28.9h.1M79.8 38.5h.1M60.9 44.1h.1M8.5 22.8h.1M62.9 18.8h.1M40.5 52.2h.1M6.7 14.8h.1M41.2 7.2h.1M83.3 9.6h.1M28.9 19.8h.1M10.9 41.1h.1M79.3 47.0h.1M54.1 51.1h.1M15.4 32.1h.1M49.4 4.8h.1M3.5 1.1h.1M35.7 21.4h.1M37.4 3.3h.1M23.7 53.3h.1M99.2 48.3h.1M60.6 35.5h.1M66.1 6.4h.1M3.3 33.5h.1M56.5 15.7h.1M82.9 12.2h.1M30.6 31.2h.1M81.0 34.9h.1M32.7 35.6h.1M66.1 56.5h.1M81.3 59.9h.1M76.8 31.2h.1M33.8 52.1h.1M62.3 49.9h.1M62.2 17.1h.1M76.5 36.4h.1M84.1 40.1h.1M40.8 46.8h.1M19.0 26.9h.1M91.5 46.4h.1M94.7 18.0h.1M14.5 55.5h.1M66.5 44.7h.1M69.4 23.9h.1M27.4 21.5h.1"/>
<use href="#c0_0" stroke="#1a821a" stroke-opacity="0.28" stroke-width="2.2"/>
<use href="#c0_1" stroke="#3ee03e" stroke-opacity="0.28" stroke-width="2.2"/>
<use href="#c0_2" stroke="#2dc42d" stroke-opacity="0.28" stroke-width="2.4"/>
<use href="#c0_0" stroke="#1a821a" stroke-width="1"/>
<use href="#c0_1" stroke="#3ee03e" stroke-width="1"/>
<use href="#c0_2" stroke="#2dc42d" stroke-width="1.2"/>
</g></g>
<clipPath id="clip1"><rect width="101.2" height="73.6"/></clipPath>
<g id="live1" clip-path="url(#clip1)"><rect width="101.2" height="73.6" fill="#000300"/>
<g stroke-linecap="round" fill="none">
<path id="c1_0" d="M21.7 16.3l-0.5 0.8M98.3 5.2l1.8 0.5M37.1 34.7l-0.5 1.1M21.1 31.7l1.8 0.7M39.9 27.9l0.5 1.6M0.7 34.2l0.3 0.6M15.5 2.5l0.8 0.2M69.3 53.6l-0.6 1.2M50.4 64.5l-1.6 0.7M74.7 65.7l-0.8 0.3M96.9 65.1l1.4 0.3M9.2 69.0l0.6 0.5M99.3 66.3l1.6 0.5M81.4 17.6l-0.7 1.3M40.6 4.0l0.8 0.2M12.2 25.2l0.3 1.6M68.5 50.6l-0.7 1.3M12.9 40.2l-0.9 1.5M24.4 32.0l0.4 0.5M44.4 49.1l-1.3 1.7M93.3 4.3l0.2 1.0M98.8 58.7l-0.6 0.6M72.2 30.7l0.7 0.6M80.6 7.1l0.7 0.5M72.4 67.6l1.2 1.0M91.5 42.5l0.7 0.3M99.8 21.9l-0.8 0.9M33.7 2.4l-1.3 0.4M19.3 57.2l-0.1 0.7M84.5 67.5l-1.0 1.6M73.7 50.4l0.6 1.7M1.1 51.3l-0.6 1.5M13.8 69.5l1.2 0.5M53.5 41.4l-0.4 2.0M14.2 11.7l-0.7 0.5M81.6 5.5l-0.3 0.5M32.6 11.4l-0.8 0.3M72.9 67.0l-1.0 0.5M78.2 42.8l-1.6 0.6M32.3 42.2l1.3 1.6M88.4 18.5l-0.9 0.2M86.8 51.3l1.7 0.9M32.4 30.9l-0.4 0.5M5.9 58.3l0.6 0.8M22.0 62.1l-1.4 0.2M2.8 13.5l0.6 0.9M57.6 55.0l-0.1 1.9M71.1 38.9l-0.2 0.7M38.7 52.7l0.4 1.5M52.7 11.9l1.1 1.4M82.5 70.6l-1.9 0.7M62.4 52.3l-1.5 0.9M94.2 65.0l0.6 0.4M39.5 31.2l-1.3 0.8M52.0 30.1l0.2 1.7M86.2 49.8l-0.3 1.3M12.4 7.8l-1.7 0.3M61.1 0.5l0.7 1.2M86.2 56.5l0.4 0.5M40.1 63.2l1.9 0.3M11.2 32.1l-1.5 1.0M33.3 11.3l0.3 1.5M75.0 48.7l-0.8 0.5M79.2 13.4l-0.3 1.4M11.3 33.8l0.8 1.0M94.2 69.8l0.9 0.8M6.7 7.8l1.4 0.6M72.8 13.4l0.4 0.4M98.1 5.0l0.2 1.6M15.0 70.4l-0.3 1.2M99.0 22.6l0.6 0.2M25.8 62.9l0.6 1.4M69.1 11.3l1.2 0.7M39.8 23.5l-1.1 1.1M79.2 30.9l0.9 0.2M65.2 68.9l0.9 1.0M99.4 2.0l-0.4 1.1M91.2 36.9l-1.6 1.2M46.1 51.5l-0.5 0.5M74.7 13.3l-1.7 0.9M64.1 60.1l1.3 1.7M69.4 44.9l0.9 1.9M66.4 60.4l-1.3 0.3M24.3 23.2l-0.4 1.1M56.1 48.8l1.1 1.7M56.6 21.9l-0.7 0.3M78.0 13.6l-1.5 0.7M77.7 50.7l1.5 1.4M84.1 61.3l-1.2 1.5M41.8 52.0l-0.2 1.4M97.4 68.3l1.6 0.6M50.4 57.4l-0.9 1.1M74.0 26.2l-1.5 1.1M89.5 23.9l2.0 0.7M91.6 6.5l1.3 0.5M52.6 52.4l-1.4 0.3M74.8 65.5l0.6 0.2M60.7 53.5l-0.3 0.9M28.0 4.5l-0.1 1.1M35.8 30.0l-0.1 0.8M55.6 67.8l0.1 1.2M37.5 55.8l-0.6 1.4M40.8 39.6l1.0 0.4M86.5 16.8l2.2 0.3M3.9 58.0l1.7 0.5M94.3 26.6l-0.0 1.9M98.4 50.0l0.2 2.0M27.2 27.7l-1.9 0.1M30.8 24.3l-1.2 0.6M96.6 35.7l-2.0 0.8M97.9 65.5l0.5 0.8M11.8 55.4l-1.7 0.1M98.4 52.4l1.1 0.7M30.6 38.1l-0.4 0.8M29.9 7.1l1.4 0.9M51.0 73.2l0.4 1.8M62.1 33.0l1.0 1.1M39.7 50.9l1.6 1.0M94.6 17.9l-0.3 0.8M21.0 36.2l0.9 1.0M59.6 32.3l-2.1 0.2M88.7 55.5l-0.0 0.8M55.6 9.9l-0.3 0.5M24.5 21.8l-1.2 0.3M7.3 16.9l-1.6 0.1M53.9 17.4l-2.0 0.8M73.5 20.9l0.6 1.3M36.0 36.1l-1.6 0.3M45.1 61.0l0.3 1.2M36.3 38.2l-1.2 1.4M55.2 57.8l0.8 1.6M67.8 0.8l-0.7 1.2M55.4 54.0l2.0 0.0M55.3 26.7l-0.9 0.5M77.7 57.5l0.8 1.9M7.9 57.0l1.4 0.7M54.7 43.2l-1.5 0.7M2.5 72.0l1.6 0.4M58.8 8.9l0.7 1.8M46.3 33.3l0.6 1.3M15.4 24.3l-0.6 0.3M21.5 39.8l-0.7 0.3M13.3 17.5l1.7 1.0M2.7 29.8l0.4 2.1M60.1 66.0l0.3 1.0M22.1 10.4l-0.7 0.1M81.4 68.4l-1.0 0.8M46.1 68.2l-2.0 0.6M30.9 72.4l0.3 1.7M92.0 67.2l0.8 0.8M64.3 50.7l-1.7 0.8M47.8 41.9l1.7 0.3M5.8 17.0l0.5 1.5M82.1 32.9l-0.4 1.7M58.4 67.3l0.8 1.1M85.8 31.7l0.7 0.2M73.2 28.9l-0.6 0.2M27.4 39.1l-1.8 1.2M64.4 46.7l-0.5 1.2M61.1 69.6l-0.9 0.8M98.4 12.1l-0.8 0.1M71.2 18.2l-1.2 1.7M84.8 49.8l0.3 1.8M87.7 36.8l-1.3 1.1M17.5 39.3l-0.5 0.6M9.2 62.9l0.7 0.2M74.3 69.0l-1.2 1.7M83.6 17.6l1.1 1.1M10.3 28.2l-1.4 0.5M9.2 50.2l2.0 0.8M6.7 16.9l-0.5 0.4M19.9 63.1l-1.4 0.1M29.6 24.4l-1.2 1.8M36.4 18.4l-0.8 0.5M90.7 8.2l-0.2 1.6M31.3 57.4l0.8 0.3M45.4 1.4l-1.5 1.2M28.4 39.5l0.4 1.3M60.3 2.4l-0.9 1.4M98.3 3.5l-0.8 0.9M23.0 16.5l-1.2 1.0M24.9 7.0l0.6 0.4M8.8 2.7l-0.7 0.2M0.4 27.1l0.2 0.8M63.9 24.0l0.9 1.8M44.5 53.8l1.8 0.1M57.4 59.3l-0.9 1.0M83.8 38.2l-1.9 0.9M70.5 18.9l1.4 0.4M40.7 3.6l0.9 1.3M43.8 65.8l0.4 2.0M8.4 48.5l0.6 0.7M51.8 14.5l-1.6 0.6M81.1 68.7l-0.7 1.3M30.3 56.1l-1.7 0.4M27.5 42.7l1.6 1.3M92.5 54.3l-1.0 0.3M30.8 24.5l-1.1 0.6M85.9 33.3l-1.2 0.1M18.2 35.8l1.2 1.2M75.0 9.4l-1.3 1.6M47.9 37.2l0.8 1.4M91.6 17.3l1.5 1.0M12.2 29.1l-0.6 1.3M7.3 44.7l0.5 0.9M52.6 32.6l0.7 0.8M61.1 5.9l-0.7 1.2M14.2 13.1l-1.6 1.1M41.6 62.2l0.7 1.8M85.7 38.7l-1.5 0.4M80.5 41.9l-1.1 1.7M48.7 54.2l1.4 1.0M32.3 25.0l-0.2 1.1M15.3 45.0l-0.8 0.2"/>
<path id="c1_1" d="M69.2 0.4l2.9 0.3M81.9 58.3l3.4 2.2M69.7 25.8l2.7 3.2M91.1 33.0l2.8 1.9M40.8 9.9l2.1 2.7M20.3 11.1l0.8 4.3M5.6 49.4l-1.4 2.6M4.4 4.2l4.2 1.8M42.6 63.2l-0.4 3.8M77.2 67.1l-2.4 2.6M83.6 8.8l0.0 2.8M72.2 0.8l0.9 4.2M88.3 64.5l2.0 1.2M83.2 57.6l2.9 0.5M22.9 73.4l1.6 3.8M23.8 24.3l-4.3 0.3M8.2 39.6l2.6 0.1M7.5 14.6l0.1 2.3M5.6 2.4l-1.9 3.4M95.9 23.6l-1.2 2.9M25.4 68.1l2.7 0.1M34.5 70.1l-3.7 0.5M51.5 59.5l2.1 2.5M100.8 34.2l1.4 3.2M11.8 5.3l0.2 2.8M44.4 67.7l-0.9 3.9M88.2 45.9l2.9 2.2M50.3 44.8l0.4 2.9M53.8 14.2l-1.3 2.9M66.6 11.8l0.9 1.9M35.7 26.6l3.3 1.6M11.2 35.4l1.8 2.3M81.0 60.5l-1.4 1.5M94.2 4.8l-1.4 1.8M6.2 57.0l-1.9 1.5M95.4 52.2l1.0 2.8M8.8 39.0l1.1 2.4M90.7 52.5l2.7 0.5M80.8 24.8l0.2 2.4M14.7 0.7l0.8 4.2M7.8 31.8l-3.5 1.6M72.8 60.9l3.1 0.4M78.1 66.1l2.7 2.9M68.4 7.3l-3.9 0.4M38.0 34.6l2.8 3.5M25.8 20.2l2.8 0.0M24.0 28.1l2.4 3.5M95.4 47.4l-3.0 2.9M76.1 31.9l2.5 2.0M29.5 27.8l0.1 2.4M96.3 12.9l-0.9 2.1M10.3 70.1l-2.6 1.8M14.4 57.0l-2.2 1.4M27.6 2.5l-3.7 1.7M15.6 5.1l-1.8 1.6M44.5 56.4l-1.5 2.4M12.6 0.3l-0.8 4.4M97.4 41.4l4.0 1.5M34.7 27.6l-3.4 2.5M8.9 70.5l2.3 1.6M72.5 60.0l3.5 1.2M17.6 15.4l1.0 2.0M71.1 67.2l-2.9 1.0M1.9 24.8l1.6 2.0M2.1 40.9l-3.6 1.4M31.0 54.5l3.5 1.7M61.7 4.7l-3.4 1.7M13.0 31.6l-2.2 0.2M38.3 6.3l-0.4 3.6M17.7 59.2l-0.9 2.9M42.2 26.6l3.3 0.1M18.8 63.6l-1.4 2.0M66.5 51.8l0.6 2.4M23.4 24.1l-1.7 2.1M52.6 63.5l3.0 2.4M79.6 18.5l1.4 1.5M61.5 12.9l2.6 0.8M94.1 66.6l2.2 2.8M29.0 59.4l-0.5 2.7M61.8 7.2l0.1 2.8M30.2 58.0l-2.8 0.1M41.3 50.5l-3.2 2.4M25.5 46.3l4.3 0.7M10.9 67.1l-2.0 2.1M50.6 63.7l3.2 0.1M17.0 26.1l2.5 3.8M46.6 23.9l1.5 2.7M66.0 58.5l1.5 1.9M13.6 56.1l-3.4 1.1M74.4 9.5l-0.5 2.0M43.9 46.0l3.5 2.7M53.4 39.4l-1.7 1.6M0.7 43.5l3.6 0.7"/>
<path id="c1_2" d="M58.8 14.3h.1M93.5 34.4h.1M68.8 48.9h.1M71.3 0.7h.1M95.7 64.5h.1M12.0 51.9h.1M89.8 0.9h.1M86.7 33.8h.1M54.2 24.6h.1M29.2 50.0h.1M5.0 73.1h.1M78.2 34.2h.1M62.4 10.6h.1M86.8 4.5h.1M26.9 47.0h.1M73.9 43.2h.1M94.6 24.5h.1M4.1 45.0h.1M100.5 44.3h.1M56.5 11.1h.1M93.0 55.6h.1M89.5 55.8h.1M90.3 9.5h.1M67.0 47.4h.1M37.4 58.3h.1M62.4 72.1h.1M86.5 3.3h.1M73.6 19.8h.1M52.3 35.9h.1M6.5 7.5h.1M9.9 39.8h.1M45.9 59.9h.1M16.7 5.6h.1M87.7 62.8h.1M51.6 70.5h.1M1.3 18.8h.1M99.2 40.7h.1M8.8 10.3h.1M98.7 11.6h.1M10.6 30.5h.1M60.3 29.9h.1M62.3 45.2h.1M20.7 65.9h.1M72.6 14.8h.1M17.5 36.5h.1M64.3 17.4h.1M64.6 35.9h.1M37.0 42.0h.1M28.9 57.6h.1M89.5 10.6h.1M34.7 7.2h.1M26.2 40.3h.1M34.0 72.1h.1M15.9 55.3h.1M18.6 71.1h.1M81.3 63.5h.1M5.7 67.5h.1M12.4 46.3h.1M64.8 36.4h.1M11.4 60.9h.1M79.5 63.3h.1M60.8 58.8h.1M12.2 5.0h.1M98.2 52.7h.1M6.2 52.7h.1M41.9 15.2h.1M60.2 51.0h.1M49.9 73.5h.1M81.3 18.5h.1M3.6 69.8h.1M93.6 31.2h.1M67.3 39.5h.1M69.2 57.4h.1M26.8 19.5h.1M56.9 64.8h.1M24.8 72.6h.1M95.5 27.2h.1M58.7 52.9h.1M13.4 67.6h.1M12.4 11.1h.1M56.8 68.3h.1M55.6 30.8h.1M6.2 27.6h.1M87.4 55.2h.1M74.3 29.7h.1M20.1 0.5h.1M5.9 46.5h.1M25.5 43.3h.1M50.0 61.0h.1M84.8 35.2h.1M11.7 11.7h.1M50.8 72.8h.1M88.9 22.0h.1M26.4 44.3h.1M1.0 27.1h.1M63.4 24.7h.1M21.5 59.1h.1M49.8 71.0h.1M63.7 37.9h.1M90.2 16.2h.1M41.8 0.8h.1M38.4 38.4h.1M62.0 33.2h.1M17.5 51.3h.1M36.5 3.0h.1M10.6 28.5h.1M99.5 54.7h.1M86.9 60.4h.1M81.3 30.6h.1M10.7 40.5h.1M51.5 1.4h.1M76.4 47.7h.1M101.1 7.9h.1M14.1 6.6h.1M1.5 28.3h.1M68.7 18.9h.1M92.7 29.2h.1M29.5 46.2h.1M83.2 28.0h.1M32.0 39.0h.1M35.5 57.9h.1M70.1 34.2h.1M39.7 13.9h.1M80.1 49.7h.1M58.2 48.8h.1M40.5 2.8h.1M78.0 42.4h.1M7.3 46.9h.1M49.4 49.8h.1M59.9 72.2h.1M45.2 37.9h.1M52.2 38.0h.1M0.3 53.3h.1M97.5 3.8h.1M9.4 69.0h.1M42.5 69.8h.1M26.4 13.9h.1M9.4 59.2h.1M24.1 57.2h.1M86.4 28.8h.1M41.1 64.9h.1M24.8 50.7h.1M33.1 16.7h.1M36.5 20.3h.1M58.0 63.5h.1M0.4 55.2h.1M93.7 16.8h.1M18.7 46.0h.1M87.6 38.4h.1M11.6 37.2h.1M85.4 58.1h.1M32.5 71.9h.1M28.2 29.8h.1M75.3 22.4h.1M13.4 27.5h.1M41.2 29.8h.1M37.4 47.4h.1M22.7 2.6h.1M87.1 17.0h.1M44.3 18.2h.1M38.0 31.7h.1M10.9 55.3h.1M44.6 10.0h.1M24.0 9.2h.1M23.3 71.5h.1M19.0 53.0h.1M14.6 26.3h.1M78.6 46.0h.1M46.7 4.1h.1M13.0 19.7h.1M69.3 68.9h.1M43.5 59.2h.1M65.4 36.3h.1M97.8 40.8h.1M79.1 25.1h.1M93.4 49.0h.1M50.2 4.0h.1M39.0 41.7h.1M65.8 24.0h.1M77.2 23.0h.1M75.3 57.9h.1M65.1 60.2h.1M80.1 61.6h.1M14.1 65.2h.1M52.8 63.4h.1M27.5 42.5h.1M4.6 16.6h.1M72.9 61.5h.1M55.5 23.4h.1M92.5 61.7h.1M27.0 57.0h.1M4.3 34.2h.1M23.6 4.5h.1M71.3 2.9h.1M40.4 40.5h.1M23.1 24.9h.1M36.3 39.3h.1M44.1 43.6h.1M82.8 35.0h.1M99.7 41.7h.1M45.9 15.1h.1M42.3 12.0h.1M92.4 17.0h.1M41.2 34.7h.1M77.0 8.3h.1M14.6 59.3h.1M44.1 2.4h.1M30.4 58.9h.1M62.7 24.8h.1M89.0 50.4h.1M80.3 30.3h.1M11.0 41.8h.1M30.7 68.2h.1M2.7 43.0h.1M71.2 33.1h.1M61.3 40.8h.1M25.1 9.1h.1M35.6 35.3h.1M75.0 68.9h.1M88.1 16.9h.1M89.5 40.4h.1M18.2 42.5h.1M29.9 55.2h.1M13.8 71.2h.1M44.1 4.0h.1M96.4 48.5h.1M91.1 1.3h.1M30.6 3.5h.1M94.8 7.7h.1M39.1 29.7h.1M94.0 60.1h.1M0.4 60.2h.1M28.6 39.0h.1M94.4 58.8h.1M67.2 37.0h.1M38.7 40.8h.1M62.0 48.4h.1M6.3 18.9h.1M18.6 68.9h.1M71.2 52.7h.1M44.3 47.9h.1M30.4 59.3h.1M68.6 29.0h.1M61.2 45.1h.1M11.5 54.1h.1M59.0 67.2h.1M73.0 4.9h.1M0.1 23.0h.1M89.4 37.1h.1M24.3 57.4h.1M15.8 6.2h.1M17.3 20.0h.1M89.4 64.1h.1M1.3 39.7h.1M100.0 72.3h.1M90.0 59.9h.1M38.6 21.2h.1M6.1 50.2h.1M73.0 44.5h.1M62.9 70.8h.1M64.9 40.2h.1M48.4 23.5h.1M38.5 66.9h.1M55.1 21.5h.1M37.1 23.7h.1M25.7 42.1h.1M6.5 62.2h.1M14.2 14.1h.1M80.2 27.4h.1M43.5 3.8h.1M83.2 30.9h.1M100.2 32.2h.1M89.6 11.1h.1"/>
<use href="#c1_0" stroke="#1a821a" stroke-opacity="0.28" stroke-width="2.4"/>
<use href="#c1_1" stroke="#3ee03e" stroke-opacity="0.28" stroke-width="2.5"/>
<use href="#c1_2" stroke="#2dc42d" stroke-opacity="0.28" stroke-width="2.7"/>
<use href="#c1_0" stroke="#1a821a" stroke-width="1.2"/>
<use href="#c1_1" stroke="#3ee03e" stroke-width="1.3"/>
<use href="#c1_2" stroke="#2dc42d" stroke-width="1.5"/>
</g></g>
<clipPath id="clip2"><rect width="101.2" height="75"/></clipPath>
<g id="live2" clip-path="url(#clip2)"><rect width="101.2" height="75" fill="#000300"/>
<g stroke-linecap="round" fill="none">
<path id="c2_0" d="M61.7 33.1l1.1 0.9M51.6 56.1l0.6 1.9M83.5 47.9l-1.3 0.2M92.6 46.7l-1.4 0.1M89.3 28.8l-1.2 1.8M48.1 62.8l-1.4 1.1M45.7 45.1l-2.0 0.8M97.0 2.3l-0.3 1.5M36.3 72.3l0.0 0.9M11.0 51.8l0.1 1.7M100.6 1.4l-1.9 0.0M39.5 33.0l0.7 1.8M98.4 17.3l-1.5 1.0M85.5 47.5l1.9 0.5M86.8 66.9l-1.4 1.5M99.0 72.9l-1.7 0.4M1.0 40.2l0.4 0.5M3.9 37.4l-1.9 0.6M89.5 55.6l-0.5 1.4M90.7 18.1l1.0 0.6M34.8 60.5l-1.5 1.6M95.9 14.8l-0.9 0.9M99.7 62.5l1.4 0.8M17.8 57.7l-0.7 0.7M49.7 49.5l1.2 1.5M41.9 25.3l-1.4 1.3M91.5 34.7l1.8 0.7M80.3 5.3l-1.3 1.3M18.3 70.6l1.7 0.2M72.6 13.2l-0.6 1.9M21.4 43.4l-1.0 1.8M66.5 12.9l1.0 0.7M87.4 74.8l-1.0 1.3M2.7 74.4l-0.5 0.8M94.8 65.4l-0.7 0.6M40.6 40.8l-0.9 1.1M82.0 18.2l-1.7 0.5M60.8 47.2l-0.4 1.8M44.6 30.7l-0.3 0.9M53.1 18.8l0.6 0.6M101.0 28.3l-0.9 1.2M51.6 45.3l0.7 0.4M40.2 75.0l0.0 1.3M78.5 26.6l0.7 1.3M19.9 47.5l0.4 0.7M21.6 39.3l1.8 0.4M83.6 71.4l-0.3 1.5M65.9 45.3l0.9 0.4M15.8 40.3l0.1 1.1M96.4 42.1l0.6 0.2M71.7 4.5l0.9 1.4M16.7 3.0l0.5 0.5M88.3 55.1l-1.5 1.4M6.4 8.2l-1.8 0.3M55.0 29.9l-0.6 0.1M22.3 50.6l0.0 0.8M92.6 8.4l-0.9 1.2M100.4 41.2l0.6 1.2M79.2 57.0l0.6 1.5M18.7 36.5l1.7 0.1M89.9 8.6l-1.4 0.6M79.1 29.2l-1.1 1.4M1.5 50.4l-1.6 0.1M62.2 5.6l0.9 0.1M84.8 37.3l-0.7 1.0M94.1 49.2l-0.2 0.9M38.9 45.5l0.8 0.1M10.3 17.8l-0.3 1.4M57.3 2.2l1.1 0.5M83.6 48.4l-0.2 0.9M27.7 25.1l1.2 1.3"/>
<path id="c2_1" d="M15.0 46.2l-2.2 2.8M38.2 17.0l-3.1 2.1M67.8 18.5l1.9 3.3M22.3 31.1l0.2 2.6M8.2 29.2l2.2 0.9M41.9 18.2l2.3 3.2M65.0 17.0l3.5 2.1M93.0 35.2l1.7 2.0M87.7 4.5l-2.3 0.4M45.9 18.7l3.5 0.1M49.0 71.5l-2.9 2.7M20.9 11.4l3.9 2.4M23.1 66.3l1.6 2.8M20.9 1.8l2.9 2.4M24.8 43.9l1.3 3.9M53.0 25.0l1.1 3.6M8.1 58.9l0.3 2.9M33.6 63.6l3.3 0.1M40.8 24.6l-2.4 1.5M89.0 41.9l-4.3 0.1M16.2 61.6l-4.2 1.3M88.8 72.0l-2.0 2.0M98.3 29.3l1.7 2.9M100.2 28.1l-3.1 3.1M27.5 9.1l-3.0 0.7M30.1 36.9l-2.8 2.0M8.1 49.4l3.9 0.3M85.5 18.7l4.3 0.1M100.5 20.9l-2.2 4.0M9.2 29.1l0.9 2.1M17.7 72.7l-2.3 1.4M2.1 9.6l-0.7 3.9M0.5 57.2l3.3 0.3M1.5 45.3l-3.2 0.6M57.3 64.6l0.3 3.9M9.5 32.5l3.3 1.1M56.1 37.2l3.1 1.4M89.8 58.6l-2.4 2.9M93.4 4.5l2.9 1.2M94.8 70.3l2.7 1.6M12.6 41.9l-2.3 3.5M31.9 28.5l-2.7 1.1M28.3 28.6l-4.4 0.1M60.2 63.8l-2.7 3.6M71.5 72.0l4.3 1.2M18.6 43.9l3.0 1.7M73.1 66.3l1.9 2.7M85.1 74.0l1.6 2.6M80.8 38.5l0.9 1.8M51.1 18.6l-1.7 2.6M87.3 46.9l-4.3 0.4M100.8 7.5l0.9 2.9M28.2 39.5l-3.7 2.3M1.5 70.8l-1.8 3.5"/>
<path id="c2_2" d="M38.9 46.3h.1M4.4 39.8h.1M52.6 66.0h.1M14.7 46.6h.1M16.9 15.6h.1M63.9 32.5h.1M44.6 50.2h.1M63.3 65.1h.1M39.5 55.7h.1M40.3 70.3h.1M17.4 5.4h.1M21.6 33.6h.1M42.3 23.8h.1M20.4 34.9h.1M84.0 34.7h.1M39.4 62.8h.1M65.7 52.6h.1M71.4 72.0h.1M34.5 10.1h.1M28.4 41.7h.1M47.7 20.5h.1M88.9 52.6h.1M56.0 6.0h.1M10.6 56.3h.1M9.0 4.1h.1M100.1 39.7h.1M5.7 35.4h.1M82.4 51.1h.1M83.1 61.4h.1M86.8 67.0h.1M29.8 24.3h.1M51.6 47.6h.1M19.4 28.9h.1M28.7 44.7h.1M37.2 21.7h.1M39.3 7.0h.1M17.1 27.8h.1M75.8 45.1h.1M60.9 43.5h.1M48.3 67.0h.1M19.8 15.1h.1M46.2 28.1h.1M33.9 9.8h.1M39.9 26.1h.1M70.0 64.8h.1M86.4 67.0h.1M93.0 52.1h.1M39.4 8.0h.1M11.6 58.8h.1M99.0 70.7h.1M90.0 44.3h.1M19.2 36.1h.1M92.5 7.1h.1M90.0 46.5h.1M62.1 49.5h.1M65.3 36.6h.1M74.9 48.9h.1M42.9 8.8h.1M4.2 5.4h.1M58.3 24.2h.1M70.7 33.7h.1M39.1 74.5h.1M45.8 31.4h.1M83.1 4.9h.1M29.1 17.3h.1M33.0 34.5h.1M88.7 32.6h.1M48.5 45.2h.1M34.7 46.9h.1M75.1 63.3h.1M79.1 69.2h.1M44.1 68.9h.1M62.3 60.2h.1M1.2 46.5h.1M36.3 60.6h.1M0.2 22.4h.1M88.6 38.0h.1M45.1 21.0h.1M24.9 43.6h.1M39.2 29.6h.1M43.5 63.2h.1M62.5 55.9h.1M12.1 44.8h.1M22.7 28.4h.1M47.5 19.8h.1M85.9 55.6h.1M95.6 65.6h.1M98.0 70.8h.1M42.5 51.9h.1M18.9 7.7h.1M34.4 20.5h.1M78.0 57.2h.1M43.4 69.9h.1M37.7 1.2h.1M8.9 22.2h.1M87.6 48.1h.1M2.2 60.2h.1M3.1 16.3h.1M15.8 21.3h.1M51.0 64.1h.1M2.3 56.1h.1M89.8 48.0h.1M20.1 17.7h.1M52.2 17.1h.1M87.3 31.5h.1M43.4 73.9h.1M98.7 10.9h.1M79.2 33.3h.1M10.1 67.7h.1M20.6 5.4h.1M59.0 73.9h.1M23.4 20.1h.1M34.5 73.6h.1M58.6 65.4h.1M26.8 2.2h.1M36.5 59.7h.1M8.5 64.5h.1M2.4 71.9h.1M99.2 7.0h.1M10.5 56.7h.1M18.3 44.6h.1M80.4 61.6h.1M51.4 40.3h.1M75.8 50.0h.1M28.0 2.6h.1"/>
<use href="#c2_0" stroke="#1a821a" stroke-opacity="0.28" stroke-width="2.7"/>
<use href="#c2_1" stroke="#3ee03e" stroke-opacity="0.28" stroke-width="3"/>
<use href="#c2_2" stroke="#2dc42d" stroke-opacity="0.28" stroke-width="3.1"/>
<use href="#c2_0" stroke="#1a821a" stroke-width="1.5"/>
<use href="#c2_1" stroke="#3ee03e" stroke-width="1.8"/>
<use href="#c2_2" stroke="#2dc42d" stroke-width="1.9"/>
</g></g>
</defs>
<svg x="438.4" y="35" width="98.8" height="73" overflow="hidden"><use href="#live0"/></svg>
<rect x="543.2" y="35" width="98.8" height="73" fill="#020202"/>
<svg x="648.8" y="35" width="101.2" height="73" overflow="hidden"><use href="#live0"/></svg>
<svg x="438.4" y="114.4" width="98.8" height="73.6" overflow="hidden"><use href="#live1"/></svg>
<rect x="543.2" y="114.4" width="98.8" height="73.6" fill="#020202"/>
<svg x="648.8" y="114.4" width="101.2" height="73.6" overflow="hidden"><use href="#live1"/></svg>
<svg x="438.4" y="195" width="98.8" height="75" overflow="hidden"><use href="#live2"/></svg>
<rect x="543.2" y="195" width="98.8" height="75" fill="#020202"/>
<svg x="648.8" y="195" width="101.2" height="75" overflow="hidden"><use href="#live2"/></svg>
</g>
<g id="panelC">
<text x="9.4" y="330.6" font-size="15.5">C</text>
<text x="23" y="389.4" font-size="14" class="r" text-anchor="middle" transform="rotate(-90 23 389.4)" textLength="34" lengthAdjust="spacingAndGlyphs" stroke="#000" stroke-width="0.3">Count</text>
<rect x="43.7" y="321" width="98.8" height="125.4" fill="none" stroke="#a9a9a9" stroke-width="0.8"/>
<line x1="43.7" y1="321" x2="43.7" y2="446.4" stroke="#7a7a7a" stroke-width="1.2"/>
<line x1="43.7" y1="446.4" x2="142.5" y2="446.4" stroke="#7a7a7a" stroke-width="1.2"/>
<path d="M43.7 446.4h-1.6M43.7 436.38h-1.6M43.7 426.36h-1.6M43.7 416.34h-1.6M43.7 406.32h-1.6M43.7 396.3h-1.6M43.7 386.28h-1.6M43.7 376.26h-1.6M43.7 366.24h-1.6M43.7 356.22h-1.6M43.7 346.2h-1.6M43.7 336.18h-1.6M43.7 326.16h-1.6" fill="none" stroke="#8a8a8a" stroke-width="0.6"/>
<line x1="41.5" y1="321" x2="43.7" y2="321" stroke="#7a7a7a" stroke-width="0.7"/>
<text x="41.1" y="322.8" font-size="5" class="s" text-anchor="end" fill="#222">629</text>
<line x1="41.5" y1="346.6" x2="43.7" y2="346.6" stroke="#7a7a7a" stroke-width="0.7"/>
<text x="41.1" y="348.4" font-size="5" class="s" text-anchor="end" fill="#222">500</text>
<line x1="41.5" y1="396.3" x2="43.7" y2="396.3" stroke="#7a7a7a" stroke-width="0.7"/>
<text x="41.1" y="398.1" font-size="5" class="s" text-anchor="end" fill="#222">250</text>
<line x1="41.5" y1="446.4" x2="43.7" y2="446.4" stroke="#7a7a7a" stroke-width="0.7"/>
<text x="41.1" y="448.2" font-size="5" class="s" text-anchor="end" fill="#222">0</text>
<line x1="43.7" y1="446.4" x2="43.7" y2="448.8" stroke="#7a7a7a" stroke-width="0.7"/>
<text x="43.4" y="455" font-size="4.2" class="s" text-anchor="middle" fill="#2a2a2a">10<tspan dy="-1.5" font-size="2.8">0</tspan></text>
<line x1="60.17" y1="446.4" x2="60.17" y2="448.8" stroke="#7a7a7a" stroke-width="0.7"/>
<text x="59.87" y="455" font-size="4.2" class="s" text-anchor="middle" fill="#2a2a2a">10<tspan dy="-1.5" font-size="2.8">1</tspan></text>
<line x1="76.63" y1="446.4" x2="76.63" y2="448.8" stroke="#7a7a7a" stroke-width="0.7"/>
<text x="76.33" y="455" font-size="4.2" class="s" text-anchor="middle" fill="#2a2a2a">10<tspan dy="-1.5" font-size="2.8">2</tspan></text>
<line x1="93.1" y1="446.4" x2="93.1" y2="448.8" stroke="#7a7a7a" stroke-width="0.7"/>
<text x="92.8" y="455" font-size="4.2" class="s" text-anchor="middle" fill="#2a2a2a">10<tspan dy="-1.5" font-size="2.8">3</tspan></text>
<line x1="109.57" y1="446.4" x2="109.57" y2="448.8" stroke="#7a7a7a" stroke-width="0.7"/>
<text x="109.27" y="455" font-size="4.2" class="s" text-anchor="middle" fill="#2a2a2a">10<tspan dy="-1.5" font-size="2.8">4</tspan></text>
<line x1="126.03" y1="446.4" x2="126.03" y2="448.8" stroke="#7a7a7a" stroke-width="0.7"/>
<text x="125.73" y="455" font-size="4.2" class="s" text-anchor="middle" fill="#2a2a2a">10<tspan dy="-1.5" font-size="2.8">5</tspan></text>
<line x1="142.5" y1="446.4" x2="142.5" y2="448.8" stroke="#7a7a7a" stroke-width="0.7"/>
<text x="142.2" y="455" font-size="4.2" class="s" text-anchor="middle" fill="#2a2a2a">10<tspan dy="-1.5" font-size="2.8">6</tspan></text>
<path d="M43.7 445.7L71.43 445.16L71.72 444.96L72.01 444.68L72.31 444.31L72.6 443.83L72.89 443.21L73.18 442.41L73.48 441.41L73.77 440.16L74.06 438.61L74.35 436.72L74.65 434.44L74.94 431.73L75.23 428.54L75.52 424.84L75.81 420.59L76.11 415.79L76.4 410.42L76.69 404.52L76.98 398.1L77.28 391.25L77.57 384.04L77.86 376.58L78.15 369L78.44 361.45L78.74 354.1L79.03 347.1L79.32 340.65L79.61 334.9L79.91 330.03L80.2 326.15L80.49 323.4L80.78 321.85L81.08 321.6L81.37 322.27L81.66 323.96L81.95 326.57L82.24 330.03L82.54 334.26L82.83 339.19L83.12 344.69L83.41 350.65L83.71 356.96L84 363.5L84.29 370.15L84.58 376.81L84.88 383.37L85.17 389.75L85.46 395.87L85.75 401.66L86.04 407.09L86.34 412.11L86.63 416.7L86.92 420.87L87.21 424.6L87.51 427.91L87.8 430.82L88.09 433.35L88.38 435.53L88.67 437.39L88.97 438.96L89.26 440.28L89.55 441.38L89.84 442.28L90.14 443.01L90.43 443.6L90.72 444.08L91.01 444.46L91.31 444.75L91.6 444.98L91.89 445.16L97.89 445.7" fill="none" stroke="#f51c1c" stroke-width="1.05" stroke-linejoin="round"/>
<path d="M93.2 446.4V321H142.5V446.4M93.2 335.5H142.5" fill="none" stroke="#1f3560" stroke-width="1.2"/>
<text x="94.2" y="331.7" font-size="9.8" class="s" fill="#1f3560" textLength="46.4" lengthAdjust="spacingAndGlyphs" stroke="#1f3560" stroke-width="0.3">R3: 0.370%</text>
<text x="68.3" y="477.8" font-size="13.6" textLength="54.9" lengthAdjust="spacingAndGlyphs">PE-CD34</text>
<rect x="180.7" y="322" width="98.7" height="124.8" fill="none" stroke="#a9a9a9" stroke-width="0.8"/>
<line x1="180.7" y1="322" x2="180.7" y2="446.8" stroke="#7a7a7a" stroke-width="1.2"/>
<line x1="180.7" y1="446.8" x2="279.4" y2="446.8" stroke="#7a7a7a" stroke-width="1.2"/>
<path d="M180.7 446.8h-1.6M180.7 440.84h-1.6M180.7 434.88h-1.6M180.7 428.92h-1.6M180.7 422.96h-1.6M180.7 417h-1.6M180.7 411.04h-1.6M180.7 405.08h-1.6M180.7 399.12h-1.6M180.7 393.16h-1.6M180.7 387.2h-1.6M180.7 381.24h-1.6M180.7 375.28h-1.6M180.7 369.32h-1.6M180.7 363.36h-1.6M180.7 357.4h-1.6M180.7 351.44h-1.6M180.7 345.48h-1.6M180.7 339.52h-1.6M180.7 333.56h-1.6M180.7 327.6h-1.6" fill="none" stroke="#8a8a8a" stroke-width="0.6"/>
<line x1="178.5" y1="327.4" x2="180.7" y2="327.4" stroke="#7a7a7a" stroke-width="0.7"/>
<text x="178.1" y="329.2" font-size="5" class="s" text-anchor="end" fill="#222">400</text>
<line x1="178.5" y1="357.2" x2="180.7" y2="357.2" stroke="#7a7a7a" stroke-width="0.7"/>
<text x="178.1" y="359" font-size="5" class="s" text-anchor="end" fill="#222">300</text>
<line x1="178.5" y1="387" x2="180.7" y2="387" stroke="#7a7a7a" stroke-width="0.7"/>
<text x="178.1" y="388.8" font-size="5" class="s" text-anchor="end" fill="#222">200</text>
<line x1="178.5" y1="417" x2="180.7" y2="417" stroke="#7a7a7a" stroke-width="0.7"/>
<text x="178.1" y="418.8" font-size="5" class="s" text-anchor="end" fill="#222">100</text>
<line x1="178.5" y1="446.8" x2="180.7" y2="446.8" stroke="#7a7a7a" stroke-width="0.7"/>
<text x="178.1" y="448.6" font-size="5" class="s" text-anchor="end" fill="#222">0</text>
<line x1="180.7" y1="446.8" x2="180.7" y2="449.2" stroke="#7a7a7a" stroke-width="0.7"/>
<text x="180.4" y="455.4" font-size="4.2" class="s" text-anchor="middle" fill="#2a2a2a">10<tspan dy="-1.5" font-size="2.8">0</tspan></text>
<line x1="197.15" y1="446.8" x2="197.15" y2="449.2" stroke="#7a7a7a" stroke-width="0.7"/>
<text x="196.85" y="455.4" font-size="4.2" class="s" text-anchor="middle" fill="#2a2a2a">10<tspan dy="-1.5" font-size="2.8">1</tspan></text>
<line x1="213.6" y1="446.8" x2="213.6" y2="449.2" stroke="#7a7a7a" stroke-width="0.7"/>
<text x="213.3" y="455.4" font-size="4.2" class="s" text-anchor="middle" fill="#2a2a2a">10<tspan dy="-1.5" font-size="2.8">2</tspan></text>
<line x1="230.05" y1="446.8" x2="230.05" y2="449.2" stroke="#7a7a7a" stroke-width="0.7"/>
<text x="229.75" y="455.4" font-size="4.2" class="s" text-anchor="middle" fill="#2a2a2a">10<tspan dy="-1.5" font-size="2.8">3</tspan></text>
<line x1="246.5" y1="446.8" x2="246.5" y2="449.2" stroke="#7a7a7a" stroke-width="0.7"/>
<text x="246.2" y="455.4" font-size="4.2" class="s" text-anchor="middle" fill="#2a2a2a">10<tspan dy="-1.5" font-size="2.8">4</tspan></text>
<line x1="262.95" y1="446.8" x2="262.95" y2="449.2" stroke="#7a7a7a" stroke-width="0.7"/>
<text x="262.65" y="455.4" font-size="4.2" class="s" text-anchor="middle" fill="#2a2a2a">10<tspan dy="-1.5" font-size="2.8">5</tspan></text>
<line x1="279.4" y1="446.8" x2="279.4" y2="449.2" stroke="#7a7a7a" stroke-width="0.7"/>
<text x="279.1" y="455.4" font-size="4.2" class="s" text-anchor="middle" fill="#2a2a2a">10<tspan dy="-1.5" font-size="2.8">6</tspan></text>
<path d="M180.7 446.1L234.42 445.6L234.89 445.4L235.36 445.14L235.83 444.79L236.31 444.33L236.78 443.73L237.25 442.96L237.72 441.99L238.19 440.77L238.66 439.26L239.13 437.42L239.61 435.2L240.08 432.55L240.55 429.43L241.02 425.82L241.49 421.67L241.96 416.99L242.43 411.77L242.91 406.04L243.38 399.84L243.85 393.24L244.32 386.33L244.79 379.22L245.26 372.05L245.73 364.96L246.21 358.13L246.68 351.71L247.15 345.89L247.62 340.82L248.09 336.65L248.56 333.5L249.03 331.47L249.51 330.62L249.98 330.88L250.45 332.02L250.92 334L251.39 336.78L251.86 340.31L252.33 344.5L252.81 349.26L253.28 354.5L253.75 360.12L254.22 366L254.69 372.05L255.16 378.16L255.63 384.24L256.11 390.2L256.58 395.97L257.05 401.49L257.52 406.7L257.99 411.57L258.46 416.06L258.93 420.17L259.41 423.89L259.88 427.22L260.35 430.17L260.82 432.76L261.29 435.02L261.76 436.96L262.23 438.62L262.71 440.03L263.18 441.2L263.65 442.18L264.12 442.99L264.59 443.65L265.06 444.19L265.53 444.61L266.01 444.96L266.48 445.23L266.95 445.44L267.42 445.6L273.42 446.1" fill="none" stroke="#f51c1c" stroke-width="1.05" stroke-linejoin="round"/>
<path d="M230.8 446.8V322H279.4V446.8M230.8 336.6H279.4" fill="none" stroke="#1f3560" stroke-width="1.2"/>
<text x="225.4" y="332.7" font-size="9.8" class="s" fill="#1f3560" textLength="51.2" lengthAdjust="spacingAndGlyphs" stroke="#1f3560" stroke-width="0.3">R3: 99.820%</text>
<text x="212.7" y="477.3" font-size="13.6" textLength="55.1" lengthAdjust="spacingAndGlyphs">PE-CD73</text>
<rect x="330.7" y="321.6" width="99.8" height="125.2" fill="none" stroke="#a9a9a9" stroke-width="0.8"/>
<line x1="330.7" y1="321.6" x2="330.7" y2="446.8" stroke="#7a7a7a" stroke-width="1.2"/>
<line x1="330.7" y1="446.8" x2="430.5" y2="446.8" stroke="#7a7a7a" stroke-width="1.2"/>
<path d="M330.7 446.8h-1.6M330.7 437.84h-1.6M330.7 428.88h-1.6M330.7 419.92h-1.6M330.7 410.96h-1.6M330.7 402h-1.6M330.7 393.04h-1.6M330.7 384.08h-1.6M330.7 375.12h-1.6M330.7 366.16h-1.6M330.7 357.2h-1.6M330.7 348.24h-1.6M330.7 339.28h-1.6M330.7 330.32h-1.6" fill="none" stroke="#8a8a8a" stroke-width="0.6"/>
<line x1="328.5" y1="321.6" x2="330.7" y2="321.6" stroke="#7a7a7a" stroke-width="0.7"/>
<text x="328.1" y="323.4" font-size="5" class="s" text-anchor="end" fill="#222">696</text>
<line x1="328.5" y1="357.2" x2="330.7" y2="357.2" stroke="#7a7a7a" stroke-width="0.7"/>
<text x="328.1" y="359" font-size="5" class="s" text-anchor="end" fill="#222">500</text>
<line x1="328.5" y1="402" x2="330.7" y2="402" stroke="#7a7a7a" stroke-width="0.7"/>
<text x="328.1" y="403.8" font-size="5" class="s" text-anchor="end" fill="#222">250</text>
<line x1="328.5" y1="446.8" x2="330.7" y2="446.8" stroke="#7a7a7a" stroke-width="0.7"/>
<text x="328.1" y="448.6" font-size="5" class="s" text-anchor="end" fill="#222">0</text>
<line x1="330.7" y1="446.8" x2="330.7" y2="449.2" stroke="#7a7a7a" stroke-width="0.7"/>
<text x="330.4" y="455.4" font-size="4.2" class="s" text-anchor="middle" fill="#2a2a2a">10<tspan dy="-1.5" font-size="2.8">0</tspan></text>
<line x1="347.33" y1="446.8" x2="347.33" y2="449.2" stroke="#7a7a7a" stroke-width="0.7"/>
<text x="347.03" y="455.4" font-size="4.2" class="s" text-anchor="middle" fill="#2a2a2a">10<tspan dy="-1.5" font-size="2.8">1</tspan></text>
<line x1="363.97" y1="446.8" x2="363.97" y2="449.2" stroke="#7a7a7a" stroke-width="0.7"/>
<text x="363.67" y="455.4" font-size="4.2" class="s" text-anchor="middle" fill="#2a2a2a">10<tspan dy="-1.5" font-size="2.8">2</tspan></text>
<line x1="380.6" y1="446.8" x2="380.6" y2="449.2" stroke="#7a7a7a" stroke-width="0.7"/>
<text x="380.3" y="455.4" font-size="4.2" class="s" text-anchor="middle" fill="#2a2a2a">10<tspan dy="-1.5" font-size="2.8">3</tspan></text>
<line x1="397.23" y1="446.8" x2="397.23" y2="449.2" stroke="#7a7a7a" stroke-width="0.7"/>
<text x="396.93" y="455.4" font-size="4.2" class="s" text-anchor="middle" fill="#2a2a2a">10<tspan dy="-1.5" font-size="2.8">4</tspan></text>
<line x1="413.87" y1="446.8" x2="413.87" y2="449.2" stroke="#7a7a7a" stroke-width="0.7"/>
<text x="413.57" y="455.4" font-size="4.2" class="s" text-anchor="middle" fill="#2a2a2a">10<tspan dy="-1.5" font-size="2.8">5</tspan></text>
<line x1="430.5" y1="446.8" x2="430.5" y2="449.2" stroke="#7a7a7a" stroke-width="0.7"/>
<text x="430.2" y="455.4" font-size="4.2" class="s" text-anchor="middle" fill="#2a2a2a">10<tspan dy="-1.5" font-size="2.8">6</tspan></text>
<path d="M330.7 446.1L361.06 445.56L361.34 445.36L361.62 445.09L361.89 444.73L362.17 444.26L362.45 443.66L362.73 442.89L363.01 441.93L363.29 440.72L363.56 439.23L363.84 437.42L364.12 435.24L364.4 432.65L364.68 429.59L364.95 426.05L365.23 421.98L365.51 417.37L365.79 412.21L366.07 406.53L366.34 400.34L366.62 393.71L366.9 386.7L367.18 379.42L367.46 371.98L367.74 364.52L368.01 357.18L368.29 350.15L368.57 343.57L368.85 337.61L369.13 332.44L369.4 328.19L369.68 324.98L369.96 322.91L370.24 322.2L370.52 322.3L370.8 323.57L371.07 325.8L371.35 328.93L371.63 332.9L371.91 337.61L372.19 342.96L372.46 348.83L372.74 355.1L373.02 361.65L373.3 368.36L373.58 375.11L373.85 381.79L374.13 388.31L374.41 394.59L374.69 400.55L374.97 406.14L375.25 411.33L375.52 416.09L375.8 420.4L376.08 424.28L376.36 427.71L376.64 430.73L376.91 433.36L377.19 435.62L377.47 437.55L377.75 439.18L378.03 440.54L378.3 441.68L378.58 442.6L378.86 443.36L379.14 443.97L379.42 444.46L379.7 444.84L379.97 445.15L380.25 445.38L380.53 445.56L386.53 446.1" fill="none" stroke="#f51c1c" stroke-width="1.05" stroke-linejoin="round"/>
<path d="M381.4 446.8V321.6H430.5V446.8M381.4 336H430.5" fill="none" stroke="#1f3560" stroke-width="1.2"/>
<text x="382" y="332.7" font-size="9.8" class="s" fill="#1f3560" textLength="45.2" lengthAdjust="spacingAndGlyphs" stroke="#1f3560" stroke-width="0.3">R3: 0.070%</text>
<text x="347.8" y="477.3" font-size="13.6" textLength="70" lengthAdjust="spacingAndGlyphs">FITC-CD45</text>
<rect x="477.4" y="320.4" width="99.1" height="125.3" fill="none" stroke="#a9a9a9" stroke-width="0.8"/>
<line x1="477.4" y1="320.4" x2="477.4" y2="445.7" stroke="#7a7a7a" stroke-width="1.2"/>
<line x1="477.4" y1="445.7" x2="576.5" y2="445.7" stroke="#7a7a7a" stroke-width="1.2"/>
<path d="M477.4 445.7h-1.6M477.4 440.6h-1.6M477.4 435.5h-1.6M477.4 430.4h-1.6M477.4 425.3h-1.6M477.4 420.2h-1.6M477.4 415.1h-1.6M477.4 410h-1.6M477.4 404.9h-1.6M477.4 399.8h-1.6M477.4 394.7h-1.6M477.4 389.6h-1.6M477.4 384.5h-1.6M477.4 379.4h-1.6M477.4 374.3h-1.6M477.4 369.2h-1.6M477.4 364.1h-1.6M477.4 359h-1.6M477.4 353.9h-1.6M477.4 348.8h-1.6M477.4 343.7h-1.6M477.4 338.6h-1.6M477.4 333.5h-1.6M477.4 328.4h-1.6M477.4 323.3h-1.6" fill="none" stroke="#8a8a8a" stroke-width="0.6"/>
<line x1="475.2" y1="320.4" x2="477.4" y2="320.4" stroke="#7a7a7a" stroke-width="0.7"/>
<text x="474.8" y="322.2" font-size="5" class="s" text-anchor="end" fill="#222">489</text>
<line x1="475.2" y1="343.4" x2="477.4" y2="343.4" stroke="#7a7a7a" stroke-width="0.7"/>
<text x="474.8" y="345.2" font-size="5" class="s" text-anchor="end" fill="#222">400</text>
<line x1="475.2" y1="369" x2="477.4" y2="369" stroke="#7a7a7a" stroke-width="0.7"/>
<text x="474.8" y="370.8" font-size="5" class="s" text-anchor="end" fill="#222">300</text>
<line x1="475.2" y1="394.6" x2="477.4" y2="394.6" stroke="#7a7a7a" stroke-width="0.7"/>
<text x="474.8" y="396.4" font-size="5" class="s" text-anchor="end" fill="#222">200</text>
<line x1="475.2" y1="420.2" x2="477.4" y2="420.2" stroke="#7a7a7a" stroke-width="0.7"/>
<text x="474.8" y="422" font-size="5" class="s" text-anchor="end" fill="#222">100</text>
<line x1="475.2" y1="445.7" x2="477.4" y2="445.7" stroke="#7a7a7a" stroke-width="0.7"/>
<text x="474.8" y="447.5" font-size="5" class="s" text-anchor="end" fill="#222">0</text>
<line x1="477.4" y1="445.7" x2="477.4" y2="448.1" stroke="#7a7a7a" stroke-width="0.7"/>
<text x="477.1" y="454.3" font-size="4.2" class="s" text-anchor="middle" fill="#2a2a2a">10<tspan dy="-1.5" font-size="2.8">0</tspan></text>
<line x1="493.92" y1="445.7" x2="493.92" y2="448.1" stroke="#7a7a7a" stroke-width="0.7"/>
<text x="493.62" y="454.3" font-size="4.2" class="s" text-anchor="middle" fill="#2a2a2a">10<tspan dy="-1.5" font-size="2.8">1</tspan></text>
<line x1="510.43" y1="445.7" x2="510.43" y2="448.1" stroke="#7a7a7a" stroke-width="0.7"/>
<text x="510.13" y="454.3" font-size="4.2" class="s" text-anchor="middle" fill="#2a2a2a">10<tspan dy="-1.5" font-size="2.8">2</tspan></text>
<line x1="526.95" y1="445.7" x2="526.95" y2="448.1" stroke="#7a7a7a" stroke-width="0.7"/>
<text x="526.65" y="454.3" font-size="4.2" class="s" text-anchor="middle" fill="#2a2a2a">10<tspan dy="-1.5" font-size="2.8">3</tspan></text>
<line x1="543.47" y1="445.7" x2="543.47" y2="448.1" stroke="#7a7a7a" stroke-width="0.7"/>
<text x="543.17" y="454.3" font-size="4.2" class="s" text-anchor="middle" fill="#2a2a2a">10<tspan dy="-1.5" font-size="2.8">4</tspan></text>
<line x1="559.98" y1="445.7" x2="559.98" y2="448.1" stroke="#7a7a7a" stroke-width="0.7"/>
<text x="559.68" y="454.3" font-size="4.2" class="s" text-anchor="middle" fill="#2a2a2a">10<tspan dy="-1.5" font-size="2.8">5</tspan></text>
<line x1="576.5" y1="445.7" x2="576.5" y2="448.1" stroke="#7a7a7a" stroke-width="0.7"/>
<text x="576.2" y="454.3" font-size="4.2" class="s" text-anchor="middle" fill="#2a2a2a">10<tspan dy="-1.5" font-size="2.8">6</tspan></text>
<path d="M477.4 445L508.35 444.7L515.35 443.8L520.35 444.1L522.35 444.46L522.72 444.24L523.09 443.95L523.45 443.55L523.82 443.03L524.19 442.35L524.56 441.47L524.92 440.36L525.29 438.96L525.66 437.22L526.03 435.09L526.39 432.52L526.76 429.45L527.13 425.84L527.5 421.65L527.87 416.86L528.23 411.45L528.6 405.45L528.97 398.89L529.34 391.83L529.7 384.36L530.07 376.6L530.44 368.69L530.81 360.81L531.18 353.12L531.54 345.84L531.91 339.16L532.28 333.26L532.65 328.33L533.01 324.53L533.38 321.96L533.75 321L534.12 321L534.48 321.74L534.85 323.61L535.22 326.33L535.59 329.82L535.96 334.03L536.32 338.86L536.69 344.23L537.06 350.01L537.43 356.12L537.79 362.45L538.16 368.88L538.53 375.32L538.9 381.68L539.26 387.88L539.63 393.85L540 399.52L540.37 404.87L540.74 409.84L541.1 414.42L541.47 418.6L541.84 422.37L542.21 425.75L542.57 428.74L542.94 431.37L543.31 433.65L543.68 435.62L544.05 437.31L544.41 438.74L544.78 439.94L545.15 440.94L545.52 441.76L545.88 442.44L546.25 442.99L546.62 443.43L546.99 443.79L547.35 444.07L547.72 444.29L548.09 444.46L554.09 445" fill="none" stroke="#f51c1c" stroke-width="1.05" stroke-linejoin="round"/>
<path d="M527.9 445.7V320.4H576.5V445.7M527.9 334.9H576.5" fill="none" stroke="#1f3560" stroke-width="1.2"/>
<text x="522.6" y="331.7" font-size="9.8" class="s" fill="#1f3560" textLength="50.4" lengthAdjust="spacingAndGlyphs" stroke="#1f3560" stroke-width="0.3">R3: 94.130%</text>
<text x="496.7" y="476.7" font-size="13.6" textLength="69.8" lengthAdjust="spacingAndGlyphs">FITC-CD90</text>
<rect x="626.3" y="320.4" width="99.1" height="125.3" fill="none" stroke="#a9a9a9" stroke-width="0.8"/>
<line x1="626.3" y1="320.4" x2="626.3" y2="445.7" stroke="#7a7a7a" stroke-width="1.2"/>
<line x1="626.3" y1="445.7" x2="725.4" y2="445.7" stroke="#7a7a7a" stroke-width="1.2"/>
<path d="M626.3 445.7h-1.6M626.3 440.46h-1.6M626.3 435.22h-1.6M626.3 429.98h-1.6M626.3 424.74h-1.6M626.3 419.5h-1.6M626.3 414.26h-1.6M626.3 409.02h-1.6M626.3 403.78h-1.6M626.3 398.54h-1.6M626.3 393.3h-1.6M626.3 388.06h-1.6M626.3 382.82h-1.6M626.3 377.58h-1.6M626.3 372.34h-1.6M626.3 367.1h-1.6M626.3 361.86h-1.6M626.3 356.62h-1.6M626.3 351.38h-1.6M626.3 346.14h-1.6M626.3 340.9h-1.6M626.3 335.66h-1.6M626.3 330.42h-1.6M626.3 325.18h-1.6" fill="none" stroke="#8a8a8a" stroke-width="0.6"/>
<line x1="624.1" y1="320.4" x2="626.3" y2="320.4" stroke="#7a7a7a" stroke-width="0.7"/>
<text x="623.7" y="322.2" font-size="5" class="s" text-anchor="end" fill="#222">477</text>
<line x1="624.1" y1="340.6" x2="626.3" y2="340.6" stroke="#7a7a7a" stroke-width="0.7"/>
<text x="623.7" y="342.4" font-size="5" class="s" text-anchor="end" fill="#222">400</text>
<line x1="624.1" y1="366.8" x2="626.3" y2="366.8" stroke="#7a7a7a" stroke-width="0.7"/>
<text x="623.7" y="368.6" font-size="5" class="s" text-anchor="end" fill="#222">300</text>
<line x1="624.1" y1="393" x2="626.3" y2="393" stroke="#7a7a7a" stroke-width="0.7"/>
<text x="623.7" y="394.8" font-size="5" class="s" text-anchor="end" fill="#222">200</text>
<line x1="624.1" y1="419.5" x2="626.3" y2="419.5" stroke="#7a7a7a" stroke-width="0.7"/>
<text x="623.7" y="421.3" font-size="5" class="s" text-anchor="end" fill="#222">100</text>
<line x1="624.1" y1="445.7" x2="626.3" y2="445.7" stroke="#7a7a7a" stroke-width="0.7"/>
<text x="623.7" y="447.5" font-size="5" class="s" text-anchor="end" fill="#222">0</text>
<line x1="626.3" y1="445.7" x2="626.3" y2="448.1" stroke="#7a7a7a" stroke-width="0.7"/>
<text x="626" y="454.3" font-size="4.2" class="s" text-anchor="middle" fill="#2a2a2a">10<tspan dy="-1.5" font-size="2.8">0</tspan></text>
<line x1="642.82" y1="445.7" x2="642.82" y2="448.1" stroke="#7a7a7a" stroke-width="0.7"/>
<text x="642.52" y="454.3" font-size="4.2" class="s" text-anchor="middle" fill="#2a2a2a">10<tspan dy="-1.5" font-size="2.8">1</tspan></text>
<line x1="659.33" y1="445.7" x2="659.33" y2="448.1" stroke="#7a7a7a" stroke-width="0.7"/>
<text x="659.03" y="454.3" font-size="4.2" class="s" text-anchor="middle" fill="#2a2a2a">10<tspan dy="-1.5" font-size="2.8">2</tspan></text>
<line x1="675.85" y1="445.7" x2="675.85" y2="448.1" stroke="#7a7a7a" stroke-width="0.7"/>
<text x="675.55" y="454.3" font-size="4.2" class="s" text-anchor="middle" fill="#2a2a2a">10<tspan dy="-1.5" font-size="2.8">3</tspan></text>
<line x1="692.37" y1="445.7" x2="692.37" y2="448.1" stroke="#7a7a7a" stroke-width="0.7"/>
<text x="692.07" y="454.3" font-size="4.2" class="s" text-anchor="middle" fill="#2a2a2a">10<tspan dy="-1.5" font-size="2.8">4</tspan></text>
<line x1="708.88" y1="445.7" x2="708.88" y2="448.1" stroke="#7a7a7a" stroke-width="0.7"/>
<text x="708.58" y="454.3" font-size="4.2" class="s" text-anchor="middle" fill="#2a2a2a">10<tspan dy="-1.5" font-size="2.8">5</tspan></text>
<line x1="725.4" y1="445.7" x2="725.4" y2="448.1" stroke="#7a7a7a" stroke-width="0.7"/>
<text x="725.1" y="454.3" font-size="4.2" class="s" text-anchor="middle" fill="#2a2a2a">10<tspan dy="-1.5" font-size="2.8">6</tspan></text>
<path d="M626.3 445L679.16 444.46L679.55 444.25L679.94 443.97L680.33 443.59L680.73 443.09L681.12 442.44L681.51 441.6L681.9 440.54L682.29 439.22L682.68 437.58L683.07 435.58L683.46 433.16L683.86 430.28L684.25 426.88L684.64 422.95L685.03 418.44L685.42 413.34L685.81 407.67L686.2 401.44L686.59 394.72L686.99 387.56L687.38 380.08L687.77 372.4L688.16 364.66L688.55 357.04L688.94 349.71L689.33 342.86L689.72 336.67L690.12 331.32L690.51 326.96L690.9 323.73L691.29 321.72L691.68 321L692.07 321.42L692.46 322.77L692.86 325.02L693.25 328.11L693.64 331.98L694.03 336.54L694.42 341.71L694.81 347.36L695.2 353.41L695.59 359.73L695.99 366.2L696.38 372.74L696.77 379.23L697.16 385.59L697.55 391.74L697.94 397.61L698.33 403.16L698.72 408.33L699.12 413.1L699.51 417.47L699.9 421.41L700.29 424.94L700.68 428.07L701.07 430.82L701.46 433.22L701.85 435.28L702.25 437.04L702.64 438.53L703.03 439.78L703.42 440.83L703.81 441.68L704.2 442.39L704.59 442.95L704.98 443.41L705.38 443.78L705.77 444.06L706.16 444.29L706.55 444.46L712.55 445" fill="none" stroke="#f51c1c" stroke-width="1.05" stroke-linejoin="round"/>
<path d="M676.8 445.7V320.4H725.4V445.7M676.8 334.9H725.4" fill="none" stroke="#1f3560" stroke-width="1.2"/>
<text x="671.4" y="331.7" font-size="9.8" class="s" fill="#1f3560" textLength="50.6" lengthAdjust="spacingAndGlyphs" stroke="#1f3560" stroke-width="0.3">R3: 99.980%</text>
<text x="650.2" y="476.7" font-size="13.6" textLength="63" lengthAdjust="spacingAndGlyphs">PE-CD105</text>
</g>
<g id="panelD1">
<text x="10.9" y="524.3" font-size="14.2">D</text>
<path d="M56.2 517H315.1V710.4" fill="none" stroke="#000" stroke-width="1.15"/>
<line x1="59.4" y1="517" x2="59.4" y2="711.1" stroke="#000" stroke-width="1.4"/>
<line x1="56.2" y1="710.4" x2="315.6" y2="710.4" stroke="#000" stroke-width="1.4"/>
<text x="49.7" y="520.7" font-size="10.6" text-anchor="end">2</text>
<line x1="56.2" y1="555.68" x2="59.4" y2="555.68" stroke="#000" stroke-width="1.2"/>
<text x="49.7" y="559.38" font-size="10.6" text-anchor="end">1.6</text>
<line x1="56.2" y1="594.36" x2="59.4" y2="594.36" stroke="#000" stroke-width="1.2"/>
<text x="49.7" y="598.06" font-size="10.6" text-anchor="end">1.2</text>
<line x1="56.2" y1="633.04" x2="59.4" y2="633.04" stroke="#000" stroke-width="1.2"/>
<text x="49.7" y="636.74" font-size="10.6" text-anchor="end">0.8</text>
<line x1="56.2" y1="671.72" x2="59.4" y2="671.72" stroke="#000" stroke-width="1.2"/>
<text x="49.7" y="675.42" font-size="10.6" text-anchor="end">0.4</text>
<text x="49.7" y="714.1" font-size="10.6" text-anchor="end">0</text>
<text x="75.5" y="537.4" font-size="12.3" textLength="33.4" lengthAdjust="spacingAndGlyphs">7 days</text>
<text x="13.8" y="623.5" font-size="13" text-anchor="middle" transform="rotate(-90 13.8 623.5)" textLength="148.6" lengthAdjust="spacingAndGlyphs">Relative mRNA expression</text>
<text x="28.5" y="624.6" font-size="13" text-anchor="middle" transform="rotate(-90 28.5 624.6)" textLength="49" lengthAdjust="spacingAndGlyphs">/GAPDF</text>
<rect x="73.7" y="605.9" width="19.3" height="104.5" fill="#fff" stroke="#000" stroke-width="1.3"/>
<rect x="93" y="652.2" width="19.2" height="58.2" fill="url(#h1)" stroke="#000" stroke-width="1.7"/>
<rect x="112.2" y="676.6" width="18.8" height="33.8" fill="#7f7f7f" stroke="#000" stroke-width="1.7"/>
<path d="M83.9 589.6V622.4M81.6 589.6H86.2M81.6 622.4H86.2" fill="none" stroke="#000" stroke-width="1.1"/>
<path d="M102.5 647.6V656.2M100.2 647.6H104.8M100.2 656.2H104.8" fill="none" stroke="#000" stroke-width="1.1"/>
<path d="M121.5 666.4V685.5M119.2 666.4H123.8M119.2 685.5H123.8" fill="none" stroke="#000" stroke-width="1.1"/>
<rect x="159.1" y="612.5" width="19.2" height="97.9" fill="#fff" stroke="#000" stroke-width="1.3"/>
<rect x="178.3" y="660.7" width="19.2" height="49.7" fill="url(#h1)" stroke="#000" stroke-width="1.7"/>
<rect x="197.5" y="669.6" width="18.9" height="40.8" fill="#7f7f7f" stroke="#000" stroke-width="1.7"/>
<path d="M168.7 599.1V626.5M166.4 599.1H171M166.4 626.5H171" fill="none" stroke="#000" stroke-width="1.1"/>
<path d="M187.2 657.1V663.6M184.9 657.1H189.5M184.9 663.6H189.5" fill="none" stroke="#000" stroke-width="1.1"/>
<path d="M205.9 660V678.5M203.6 660H208.2M203.6 678.5H208.2" fill="none" stroke="#000" stroke-width="1.1"/>
<rect x="244.1" y="612.5" width="19.2" height="97.9" fill="#fff" stroke="#000" stroke-width="1.3"/>
<rect x="263.3" y="657.6" width="19.4" height="52.8" fill="url(#h1)" stroke="#000" stroke-width="1.7"/>
<rect x="282.7" y="660" width="19" height="50.4" fill="#7f7f7f" stroke="#000" stroke-width="1.7"/>
<path d="M253.7 599.1V626.5M251.4 599.1H256M251.4 626.5H256" fill="none" stroke="#000" stroke-width="1.1"/>
<path d="M272.4 651.1V663.1M270.1 651.1H274.7M270.1 663.1H274.7" fill="none" stroke="#000" stroke-width="1.1"/>
<path d="M292.1 647.5V671.5M289.8 647.5H294.4M289.8 671.5H294.4" fill="none" stroke="#000" stroke-width="1.1"/>
<text x="73.6" y="732" font-size="12.7" textLength="53" lengthAdjust="spacingAndGlyphs">Aggrecan</text>
<text x="164.8" y="732" font-size="12.7" textLength="26" lengthAdjust="spacingAndGlyphs">Sox9</text>
<text x="235.6" y="732" font-size="12.7" textLength="56.8" lengthAdjust="spacingAndGlyphs">CollagenII</text>
<path d="M85.5 576V558.5H123.6V584.4M85.5 564.2H108.8V579.4" fill="none" stroke="#5f5f5f" stroke-width="0.85"/>
<text x="101.4" y="561.19" font-size="11" class="r" text-anchor="middle" fill="#3c3c3c">**</text>
<text x="95.2" y="576.19" font-size="11" class="r" text-anchor="middle" fill="#3c3c3c">*</text>
<path d="M172.3 586.4V567.7H213.1V596M172.3 575.6H196.3V594.8" fill="none" stroke="#5f5f5f" stroke-width="0.85"/>
<text x="198.7" y="570.49" font-size="11" class="r" text-anchor="middle" fill="#3c3c3c">**</text>
<text x="183.1" y="586.79" font-size="11" class="r" text-anchor="middle" fill="#3c3c3c">*</text>
<path d="M259.9 585.2V568.4H300.7V596M259.9 575.6H284.4V596" fill="none" stroke="#5f5f5f" stroke-width="0.85"/>
<text x="280.8" y="570.49" font-size="11" class="r" text-anchor="middle" fill="#3c3c3c">*</text>
<text x="272.9" y="585.19" font-size="11" class="r" text-anchor="middle" fill="#3c3c3c">*</text>
</g>
<g id="panelD2">
<path d="M376.9 516.3H637.4V708.2" fill="none" stroke="#000" stroke-width="1.15"/>
<line x1="380" y1="516.3" x2="380" y2="708.9" stroke="#000" stroke-width="1.4"/>
<line x1="376.9" y1="708.2" x2="637.9" y2="708.2" stroke="#000" stroke-width="1.4"/>
<text x="370.8" y="520" font-size="10.6" text-anchor="end">15</text>
<line x1="376.9" y1="554.68" x2="380" y2="554.68" stroke="#000" stroke-width="1.2"/>
<text x="370.8" y="558.38" font-size="10.6" text-anchor="end">12</text>
<line x1="376.9" y1="593.06" x2="380" y2="593.06" stroke="#000" stroke-width="1.2"/>
<text x="370.8" y="596.76" font-size="10.6" text-anchor="end">9</text>
<line x1="376.9" y1="631.44" x2="380" y2="631.44" stroke="#000" stroke-width="1.2"/>
<text x="370.8" y="635.14" font-size="10.6" text-anchor="end">6</text>
<line x1="376.9" y1="669.82" x2="380" y2="669.82" stroke="#000" stroke-width="1.2"/>
<text x="370.8" y="673.52" font-size="10.6" text-anchor="end">3</text>
<text x="370.8" y="711.9" font-size="10.6" text-anchor="end">0</text>
<text x="396.3" y="537.2" font-size="12.5" textLength="41.2" lengthAdjust="spacingAndGlyphs">14 days</text>
<text x="339.7" y="607" font-size="13" text-anchor="middle" transform="rotate(-90 339.7 607)" textLength="148.6" lengthAdjust="spacingAndGlyphs">Relative mRNA expression</text>
<text x="355" y="608" font-size="13" text-anchor="middle" transform="rotate(-90 355 608)" textLength="49" lengthAdjust="spacingAndGlyphs">/GAPDF</text>
<rect x="394.9" y="636" width="19.4" height="72.2" fill="#fff" stroke="#000" stroke-width="1.3"/>
<rect x="414.3" y="690.7" width="19" height="17.5" fill="url(#h1)" stroke="#000" stroke-width="1.7"/>
<rect x="433.3" y="700" width="19.2" height="8.2" fill="#7f7f7f" stroke="#000" stroke-width="1.7"/>
<path d="M404.5 628.3V643.7M402.4 628.3H406.6M402.4 643.7H406.6" fill="none" stroke="#000" stroke-width="1.1"/>
<path d="M423.7 683.3V698M421.6 683.3H425.8M421.6 698H425.8" fill="none" stroke="#000" stroke-width="1.1"/>
<path d="M442.9 693.1V707.5M440.8 693.1H445M440.8 707.5H445" fill="none" stroke="#000" stroke-width="1.1"/>
<rect x="480.3" y="675.6" width="19.2" height="32.6" fill="#fff" stroke="#000" stroke-width="1.3"/>
<rect x="499.5" y="692.4" width="19.2" height="15.8" fill="url(#h1)" stroke="#000" stroke-width="1.7"/>
<rect x="518.7" y="693.1" width="19.3" height="15.1" fill="#7f7f7f" stroke="#000" stroke-width="1.7"/>
<path d="M490.1 673.2V678M488 673.2H492.2M488 678H492.2" fill="none" stroke="#000" stroke-width="1.1"/>
<path d="M508.9 687.1V696.5M506.8 687.1H511M506.8 696.5H511" fill="none" stroke="#000" stroke-width="1.1"/>
<path d="M528.1 687.6V697.9M526 687.6H530.2M526 697.9H530.2" fill="none" stroke="#000" stroke-width="1.1"/>
<rect x="566" y="572" width="19.7" height="136.2" fill="#fff" stroke="#000" stroke-width="1.3"/>
<rect x="585.7" y="645.6" width="18.7" height="62.6" fill="url(#h1)" stroke="#000" stroke-width="1.7"/>
<rect x="604.4" y="676.8" width="18.7" height="31.4" fill="#7f7f7f" stroke="#000" stroke-width="1.7"/>
<path d="M594.3 639.6V650.4M592.2 639.6H596.4M592.2 650.4H596.4" fill="none" stroke="#000" stroke-width="1.1"/>
<path d="M613.3 667.2V686.9M611.2 667.2H615.4M611.2 686.9H615.4" fill="none" stroke="#000" stroke-width="1.1"/>
<rect x="573" y="570.4" width="4.2" height="3.2" fill="#000"/>
<text x="412.3" y="730.8" font-size="12.7" textLength="52.6" lengthAdjust="spacingAndGlyphs">Aggrecan</text>
<text x="502.8" y="730.8" font-size="12.7" textLength="25.8" lengthAdjust="spacingAndGlyphs">Sox9</text>
<text x="574.1" y="730.8" font-size="12.7" textLength="56.4" lengthAdjust="spacingAndGlyphs">CollagenII</text>
<path d="M403.5 614.7V596H444.3V619.5M403.5 604.9H427.5V619.5" fill="none" stroke="#5f5f5f" stroke-width="0.85"/>
<text x="427.3" y="598.79" font-size="11" class="r" text-anchor="middle" fill="#3c3c3c">**</text>
<text x="413.6" y="617.99" font-size="11" class="r" text-anchor="middle" fill="#3c3c3c">**</text>
<path d="M486.3 657.6V636H526.9V664.3M486.3 647.3H510.3V664.3" fill="none" stroke="#5f5f5f" stroke-width="0.85"/>
<text x="505.3" y="636.56" font-size="10.5" text-anchor="middle" fill="#333" textLength="12.5" lengthAdjust="spacingAndGlyphs">* *</text>
<text x="499.5" y="650.79" font-size="11" class="r" text-anchor="middle" fill="#3c3c3c">*</text>
<path d="M578.7 563.6V544.4H620V572.5M578.7 555.7H602.7V573.2" fill="none" stroke="#5f5f5f" stroke-width="0.85"/>
<text x="598.9" y="543.59" font-size="11" class="r" text-anchor="middle" fill="#3c3c3c">**</text>
<text x="593.1" y="569.99" font-size="11" class="r" text-anchor="middle" fill="#3c3c3c">**</text>
</g>
<g id="panelE">
<text x="28.8" y="771.9" font-size="14">E</text>
<path d="M69.6 763.8H315.5V945.1" fill="none" stroke="#000" stroke-width="1.15"/>
<line x1="72.7" y1="763.8" x2="72.7" y2="945.8" stroke="#000" stroke-width="1.4"/>
<line x1="69.6" y1="945.1" x2="316" y2="945.1" stroke="#000" stroke-width="1.4"/>
<text x="63.8" y="767.6" font-size="11.1" text-anchor="end">1.5</text>
<line x1="69.6" y1="800.06" x2="72.7" y2="800.06" stroke="#000" stroke-width="1.2"/>
<text x="63.8" y="803.86" font-size="11.1" text-anchor="end">1.2</text>
<line x1="69.6" y1="836.32" x2="72.7" y2="836.32" stroke="#000" stroke-width="1.2"/>
<text x="63.8" y="840.12" font-size="11.1" text-anchor="end">0.9</text>
<line x1="69.6" y1="872.58" x2="72.7" y2="872.58" stroke="#000" stroke-width="1.2"/>
<text x="63.8" y="876.38" font-size="11.1" text-anchor="end">0.6</text>
<line x1="69.6" y1="908.84" x2="72.7" y2="908.84" stroke="#000" stroke-width="1.2"/>
<text x="63.8" y="912.64" font-size="11.1" text-anchor="end">0.3</text>
<text x="63.8" y="948.9" font-size="11.1" text-anchor="end">0</text>
<text x="38.4" y="863.9" font-size="11.6" text-anchor="middle" transform="rotate(-90 38.4 863.9)" textLength="85.6" lengthAdjust="spacingAndGlyphs">HYP/DNA,μg/μL</text>
<rect x="93.1" y="860.8" width="26.9" height="84.3" fill="#fff" stroke="#000" stroke-width="1.3"/>
<rect x="120" y="883.2" width="27.1" height="61.9" fill="url(#h1)" stroke="#000" stroke-width="1.7"/>
<rect x="147.1" y="894.7" width="27.1" height="50.4" fill="#7f7f7f" stroke="#000" stroke-width="1.7"/>
<path d="M106.8 854.8V865.5M104.8 854.8H108.8M104.8 865.5H108.8" fill="none" stroke="#000" stroke-width="1.1"/>
<path d="M133.9 878.4V887.3M131.9 878.4H135.9M131.9 887.3H135.9" fill="none" stroke="#000" stroke-width="1.1"/>
<path d="M160.3 889.7V899.3M158.3 889.7H162.3M158.3 899.3H162.3" fill="none" stroke="#000" stroke-width="1.1"/>
<rect x="214.5" y="818.2" width="27.6" height="126.9" fill="#fff" stroke="#000" stroke-width="1.3"/>
<rect x="242.1" y="863.9" width="27.1" height="81.2" fill="url(#h1)" stroke="#000" stroke-width="1.7"/>
<rect x="269.2" y="879.8" width="27.1" height="65.3" fill="#7f7f7f" stroke="#000" stroke-width="1.7"/>
<path d="M227.7 812.2V825.4M225.7 812.2H229.7M225.7 825.4H229.7" fill="none" stroke="#000" stroke-width="1.1"/>
<path d="M254.8 860.9V866.7M252.8 860.9H256.8M252.8 866.7H256.8" fill="none" stroke="#000" stroke-width="1.1"/>
<path d="M281.2 871.1V886.8M279.2 871.1H283.2M279.2 886.8H283.2" fill="none" stroke="#000" stroke-width="1.1"/>
<text x="114.4" y="959.3" font-size="12.5" textLength="30.4" lengthAdjust="spacingAndGlyphs">7days</text>
<text x="240.3" y="959.3" font-size="12.5" textLength="37.4" lengthAdjust="spacingAndGlyphs">14days</text>
<path d="M105.6 841V822.5H165.2V848.7M105.6 831.4H138.5V848.2" fill="none" stroke="#5f5f5f" stroke-width="0.85"/>
<text x="131.5" y="825.19" font-size="11" class="r" text-anchor="middle" fill="#3c3c3c">**</text>
<text x="118.8" y="834.69" font-size="11" class="r" text-anchor="middle" fill="#3c3c3c">*</text>
<path d="M230.1 801.4V782.7H289.6V808.6M230.1 791.8H264.9V807.9" fill="none" stroke="#5f5f5f" stroke-width="0.85"/>
<text x="259.1" y="785.49" font-size="11" class="r" text-anchor="middle" fill="#3c3c3c">**</text>
<text x="247.1" y="795.09" font-size="11" class="r" text-anchor="middle" fill="#3c3c3c">**</text>
</g>
<g id="panelF">
<text x="349.2" y="765.4" font-size="14">F</text>
<path d="M384.7 758.8H633.5V939.1" fill="none" stroke="#000" stroke-width="1.15"/>
<line x1="387.6" y1="758.8" x2="387.6" y2="939.8" stroke="#000" stroke-width="1.4"/>
<line x1="384.7" y1="939.1" x2="634" y2="939.1" stroke="#000" stroke-width="1.4"/>
<text x="377.6" y="762.6" font-size="11.1" text-anchor="end">35</text>
<line x1="384.7" y1="784.56" x2="387.6" y2="784.56" stroke="#000" stroke-width="1.2"/>
<text x="377.6" y="788.36" font-size="11.1" text-anchor="end">30</text>
<line x1="384.7" y1="810.31" x2="387.6" y2="810.31" stroke="#000" stroke-width="1.2"/>
<text x="377.6" y="814.11" font-size="11.1" text-anchor="end">25</text>
<line x1="384.7" y1="836.07" x2="387.6" y2="836.07" stroke="#000" stroke-width="1.2"/>
<text x="377.6" y="839.87" font-size="11.1" text-anchor="end">20</text>
<line x1="384.7" y1="861.83" x2="387.6" y2="861.83" stroke="#000" stroke-width="1.2"/>
<text x="377.6" y="865.63" font-size="11.1" text-anchor="end">15</text>
<line x1="384.7" y1="887.59" x2="387.6" y2="887.59" stroke="#000" stroke-width="1.2"/>
<text x="377.6" y="891.39" font-size="11.1" text-anchor="end">10</text>
<line x1="384.7" y1="913.34" x2="387.6" y2="913.34" stroke="#000" stroke-width="1.2"/>
<text x="377.6" y="917.14" font-size="11.1" text-anchor="end">5</text>
<text x="377.6" y="942.9" font-size="11.1" text-anchor="end">0</text>
<text x="355.9" y="845.5" font-size="11.6" text-anchor="middle" transform="rotate(-90 355.9 845.5)" textLength="87.3" lengthAdjust="spacingAndGlyphs">GAG/DNA,μg/μL</text>
<rect x="408.7" y="844.7" width="26.9" height="94.4" fill="#fff" stroke="#000" stroke-width="1.3"/>
<rect x="435.6" y="870.8" width="27.6" height="68.3" fill="url(#h1)" stroke="#000" stroke-width="1.7"/>
<rect x="463.2" y="897.1" width="27.1" height="42" fill="#7f7f7f" stroke="#000" stroke-width="1.7"/>
<path d="M422.4 841V848.2M420.4 841H424.4M420.4 848.2H424.4" fill="none" stroke="#000" stroke-width="1.1"/>
<path d="M449.3 867.9V873.9M447.3 867.9H451.3M447.3 873.9H451.3" fill="none" stroke="#000" stroke-width="1.1"/>
<path d="M477.1 894.7V900M475.1 894.7H479.1M475.1 900H479.1" fill="none" stroke="#000" stroke-width="1.1"/>
<rect x="531.3" y="806.7" width="27.6" height="132.4" fill="#fff" stroke="#000" stroke-width="1.3"/>
<rect x="558.9" y="844.2" width="27.1" height="94.9" fill="url(#h1)" stroke="#000" stroke-width="1.7"/>
<rect x="586" y="886.8" width="27.1" height="52.3" fill="#7f7f7f" stroke="#000" stroke-width="1.7"/>
<path d="M545.2 803.3V809.3M543.2 803.3H547.2M543.2 809.3H547.2" fill="none" stroke="#000" stroke-width="1.1"/>
<path d="M572.1 841V848.2M570.1 841H574.1M570.1 848.2H574.1" fill="none" stroke="#000" stroke-width="1.1"/>
<path d="M599.7 883.9V889.2M597.7 883.9H601.7M597.7 889.2H601.7" fill="none" stroke="#000" stroke-width="1.1"/>
<text x="429.5" y="959.3" font-size="12.5" textLength="30.8" lengthAdjust="spacingAndGlyphs">7days</text>
<text x="559.3" y="959.3" font-size="12.5" textLength="36.6" lengthAdjust="spacingAndGlyphs">14days</text>
<path d="M416.4 829.5V810.3H475.9V837.4M416.4 820.1H450.5V836.7" fill="none" stroke="#5f5f5f" stroke-width="0.85"/>
<text x="443.5" y="813.79" font-size="11" class="r" text-anchor="middle" fill="#3c3c3c">**</text>
<text x="433.7" y="822.69" font-size="11" class="r" text-anchor="middle" fill="#3c3c3c">**</text>
<path d="M546.4 795.9V776.9H606.4V803.3M546.4 787H581.2V802.6" fill="none" stroke="#5f5f5f" stroke-width="0.85"/>
<text x="576.4" y="780.19" font-size="11" class="r" text-anchor="middle" fill="#3c3c3c">**</text>
<text x="563.7" y="789.09" font-size="11" class="r" text-anchor="middle" fill="#3c3c3c">**</text>
</g>
<g id="panelG">
<text x="25.2" y="996.9" font-size="15.2">C</text>
<line x1="74.4" y1="990.6" x2="74.4" y2="1153.1" stroke="#000" stroke-width="1.7"/>
<line x1="73.55" y1="1152.1" x2="317.3" y2="1152.1" stroke="#000" stroke-width="2"/>
<line x1="68.4" y1="991.4" x2="74.4" y2="991.4" stroke="#000" stroke-width="1.6"/>
<text x="64.4" y="995.1" font-size="10.3" class="s" text-anchor="end" textLength="14.4" lengthAdjust="spacingAndGlyphs">0.8</text>
<line x1="68.4" y1="1031.58" x2="74.4" y2="1031.58" stroke="#000" stroke-width="1.6"/>
<text x="64.4" y="1035.28" font-size="10.3" class="s" text-anchor="end" textLength="14.4" lengthAdjust="spacingAndGlyphs">0.6</text>
<line x1="68.4" y1="1071.75" x2="74.4" y2="1071.75" stroke="#000" stroke-width="1.6"/>
<text x="64.4" y="1075.45" font-size="10.3" class="s" text-anchor="end" textLength="14.4" lengthAdjust="spacingAndGlyphs">0.4</text>
<line x1="68.4" y1="1111.92" x2="74.4" y2="1111.92" stroke="#000" stroke-width="1.6"/>
<text x="64.4" y="1115.62" font-size="10.3" class="s" text-anchor="end" textLength="14.4" lengthAdjust="spacingAndGlyphs">0.2</text>
<line x1="68.4" y1="1152.1" x2="74.4" y2="1152.1" stroke="#000" stroke-width="1.6"/>
<text x="64.4" y="1155.8" font-size="10.3" class="s" text-anchor="end" textLength="14.4" lengthAdjust="spacingAndGlyphs">0.0</text>
<text x="38.4" y="1067" font-size="14" text-anchor="middle" transform="rotate(-90 38.4 1067)" textLength="77" lengthAdjust="spacingAndGlyphs">Cell viability</text>
<line x1="114.7" y1="1152.1" x2="114.7" y2="1159.3" stroke="#333" stroke-width="1"/>
<line x1="195.6" y1="1152.1" x2="195.6" y2="1159.3" stroke="#333" stroke-width="1"/>
<line x1="277.2" y1="1152.1" x2="277.2" y2="1159.3" stroke="#333" stroke-width="1"/>
<text x="114.7" y="1173.9" font-size="12.4" text-anchor="middle">2</text>
<text x="195.6" y="1173.9" font-size="12.4" text-anchor="middle">4</text>
<text x="262.4" y="1173.9" font-size="12.4" textLength="28.8" lengthAdjust="spacingAndGlyphs">7 day</text>
<rect x="101" y="985.8" width="15.2" height="4.4" fill="#fff" stroke="#000" stroke-width="1.4"/>
<text x="126.8" y="991.6" font-size="10.2" textLength="39.2" lengthAdjust="spacing">Control</text>
<rect x="101" y="1001.4" width="15.2" height="4.4" fill="#a3a3a3" stroke="#000" stroke-width="1.4"/>
<text x="126.8" y="1007.2" font-size="10.2" textLength="53.2" lengthAdjust="spacing">Col/SF 7:3</text>
<rect x="101" y="1017" width="15.2" height="4.4" fill="url(#dots)" stroke="#000" stroke-width="1.4"/>
<text x="126.8" y="1022.8" font-size="10.2" textLength="53.2" lengthAdjust="spacing">Col/SF 8:2</text>
<rect x="101" y="1032.6" width="15.2" height="4.4" fill="url(#h2)" stroke="#000" stroke-width="1.4"/>
<text x="126.8" y="1038.4" font-size="10.2" textLength="53.2" lengthAdjust="spacing">Col/SF 9:1</text>
<rect x="83.7" y="1111" width="13.9" height="41.1" fill="#fff" stroke="#000" stroke-width="1.8"/>
<path d="M90.65 1110.1V1109.6M87.15 1109.6H94.15" fill="none" stroke="#000" stroke-width="1.3"/>
<rect x="100.05" y="1108.1" width="13.9" height="44" fill="#a3a3a3" stroke="#000" stroke-width="1.8"/>
<path d="M107 1107.2V1104.2M103.5 1104.2H110.5" fill="none" stroke="#000" stroke-width="1.3"/>
<rect x="116.4" y="1112.2" width="13.9" height="39.9" fill="url(#dots)" stroke="#000" stroke-width="1.8"/>
<path d="M123.35 1111.3V1109.5M119.85 1109.5H126.85" fill="none" stroke="#000" stroke-width="1.3"/>
<rect x="132.75" y="1114.1" width="13.9" height="38" fill="url(#h2)" stroke="#000" stroke-width="1.8"/>
<path d="M139.7 1113.2V1111.9M136.2 1111.9H143.2" fill="none" stroke="#000" stroke-width="1.3"/>
<rect x="164.6" y="1094.5" width="13.9" height="57.6" fill="#fff" stroke="#000" stroke-width="1.8"/>
<path d="M171.55 1093.6V1090.6M168.05 1090.6H175.05" fill="none" stroke="#000" stroke-width="1.3"/>
<rect x="180.95" y="1088.5" width="13.9" height="63.6" fill="#a3a3a3" stroke="#000" stroke-width="1.8"/>
<path d="M187.9 1087.6V1083.4M184.4 1083.4H191.4" fill="none" stroke="#000" stroke-width="1.3"/>
<rect x="197.3" y="1096.4" width="13.9" height="55.7" fill="url(#dots)" stroke="#000" stroke-width="1.8"/>
<path d="M204.25 1095.5V1093M200.75 1093H207.75" fill="none" stroke="#000" stroke-width="1.3"/>
<rect x="213.65" y="1100" width="13.9" height="52.1" fill="url(#h2)" stroke="#000" stroke-width="1.8"/>
<path d="M220.6 1099.1V1098.5M217.1 1098.5H224.1" fill="none" stroke="#000" stroke-width="1.3"/>
<rect x="245.2" y="1077" width="13.9" height="75.1" fill="#fff" stroke="#000" stroke-width="1.8"/>
<path d="M252.15 1076.1V1073.3M248.65 1073.3H255.65" fill="none" stroke="#000" stroke-width="1.3"/>
<rect x="261.55" y="1034.5" width="13.9" height="117.6" fill="#a3a3a3" stroke="#000" stroke-width="1.8"/>
<path d="M268.5 1033.6V1027M265 1027H272" fill="none" stroke="#000" stroke-width="1.3"/>
<rect x="277.9" y="1037.4" width="13.9" height="114.7" fill="url(#dots)" stroke="#000" stroke-width="1.8"/>
<path d="M284.85 1036.5V1033M281.35 1033H288.35" fill="none" stroke="#000" stroke-width="1.3"/>
<rect x="294.25" y="1040.9" width="13.9" height="111.2" fill="url(#h2)" stroke="#000" stroke-width="1.8"/>
<path d="M301.2 1040V1030.6M297.7 1030.6H304.7" fill="none" stroke="#000" stroke-width="1.3"/>
<text x="266.9" y="1014.56" font-size="10.5" text-anchor="middle" fill="#8c8c8c" textLength="15.4" lengthAdjust="spacingAndGlyphs">***</text>
<text x="284.4" y="1024.86" font-size="10.5" text-anchor="middle" fill="#8c8c8c" textLength="15.4" lengthAdjust="spacingAndGlyphs">***</text>
<text x="301.7" y="1019.86" font-size="10.5" text-anchor="middle" fill="#8c8c8c" textLength="15.4" lengthAdjust="spacingAndGlyphs">***</text>
</g>
</svg>
</body></html>
